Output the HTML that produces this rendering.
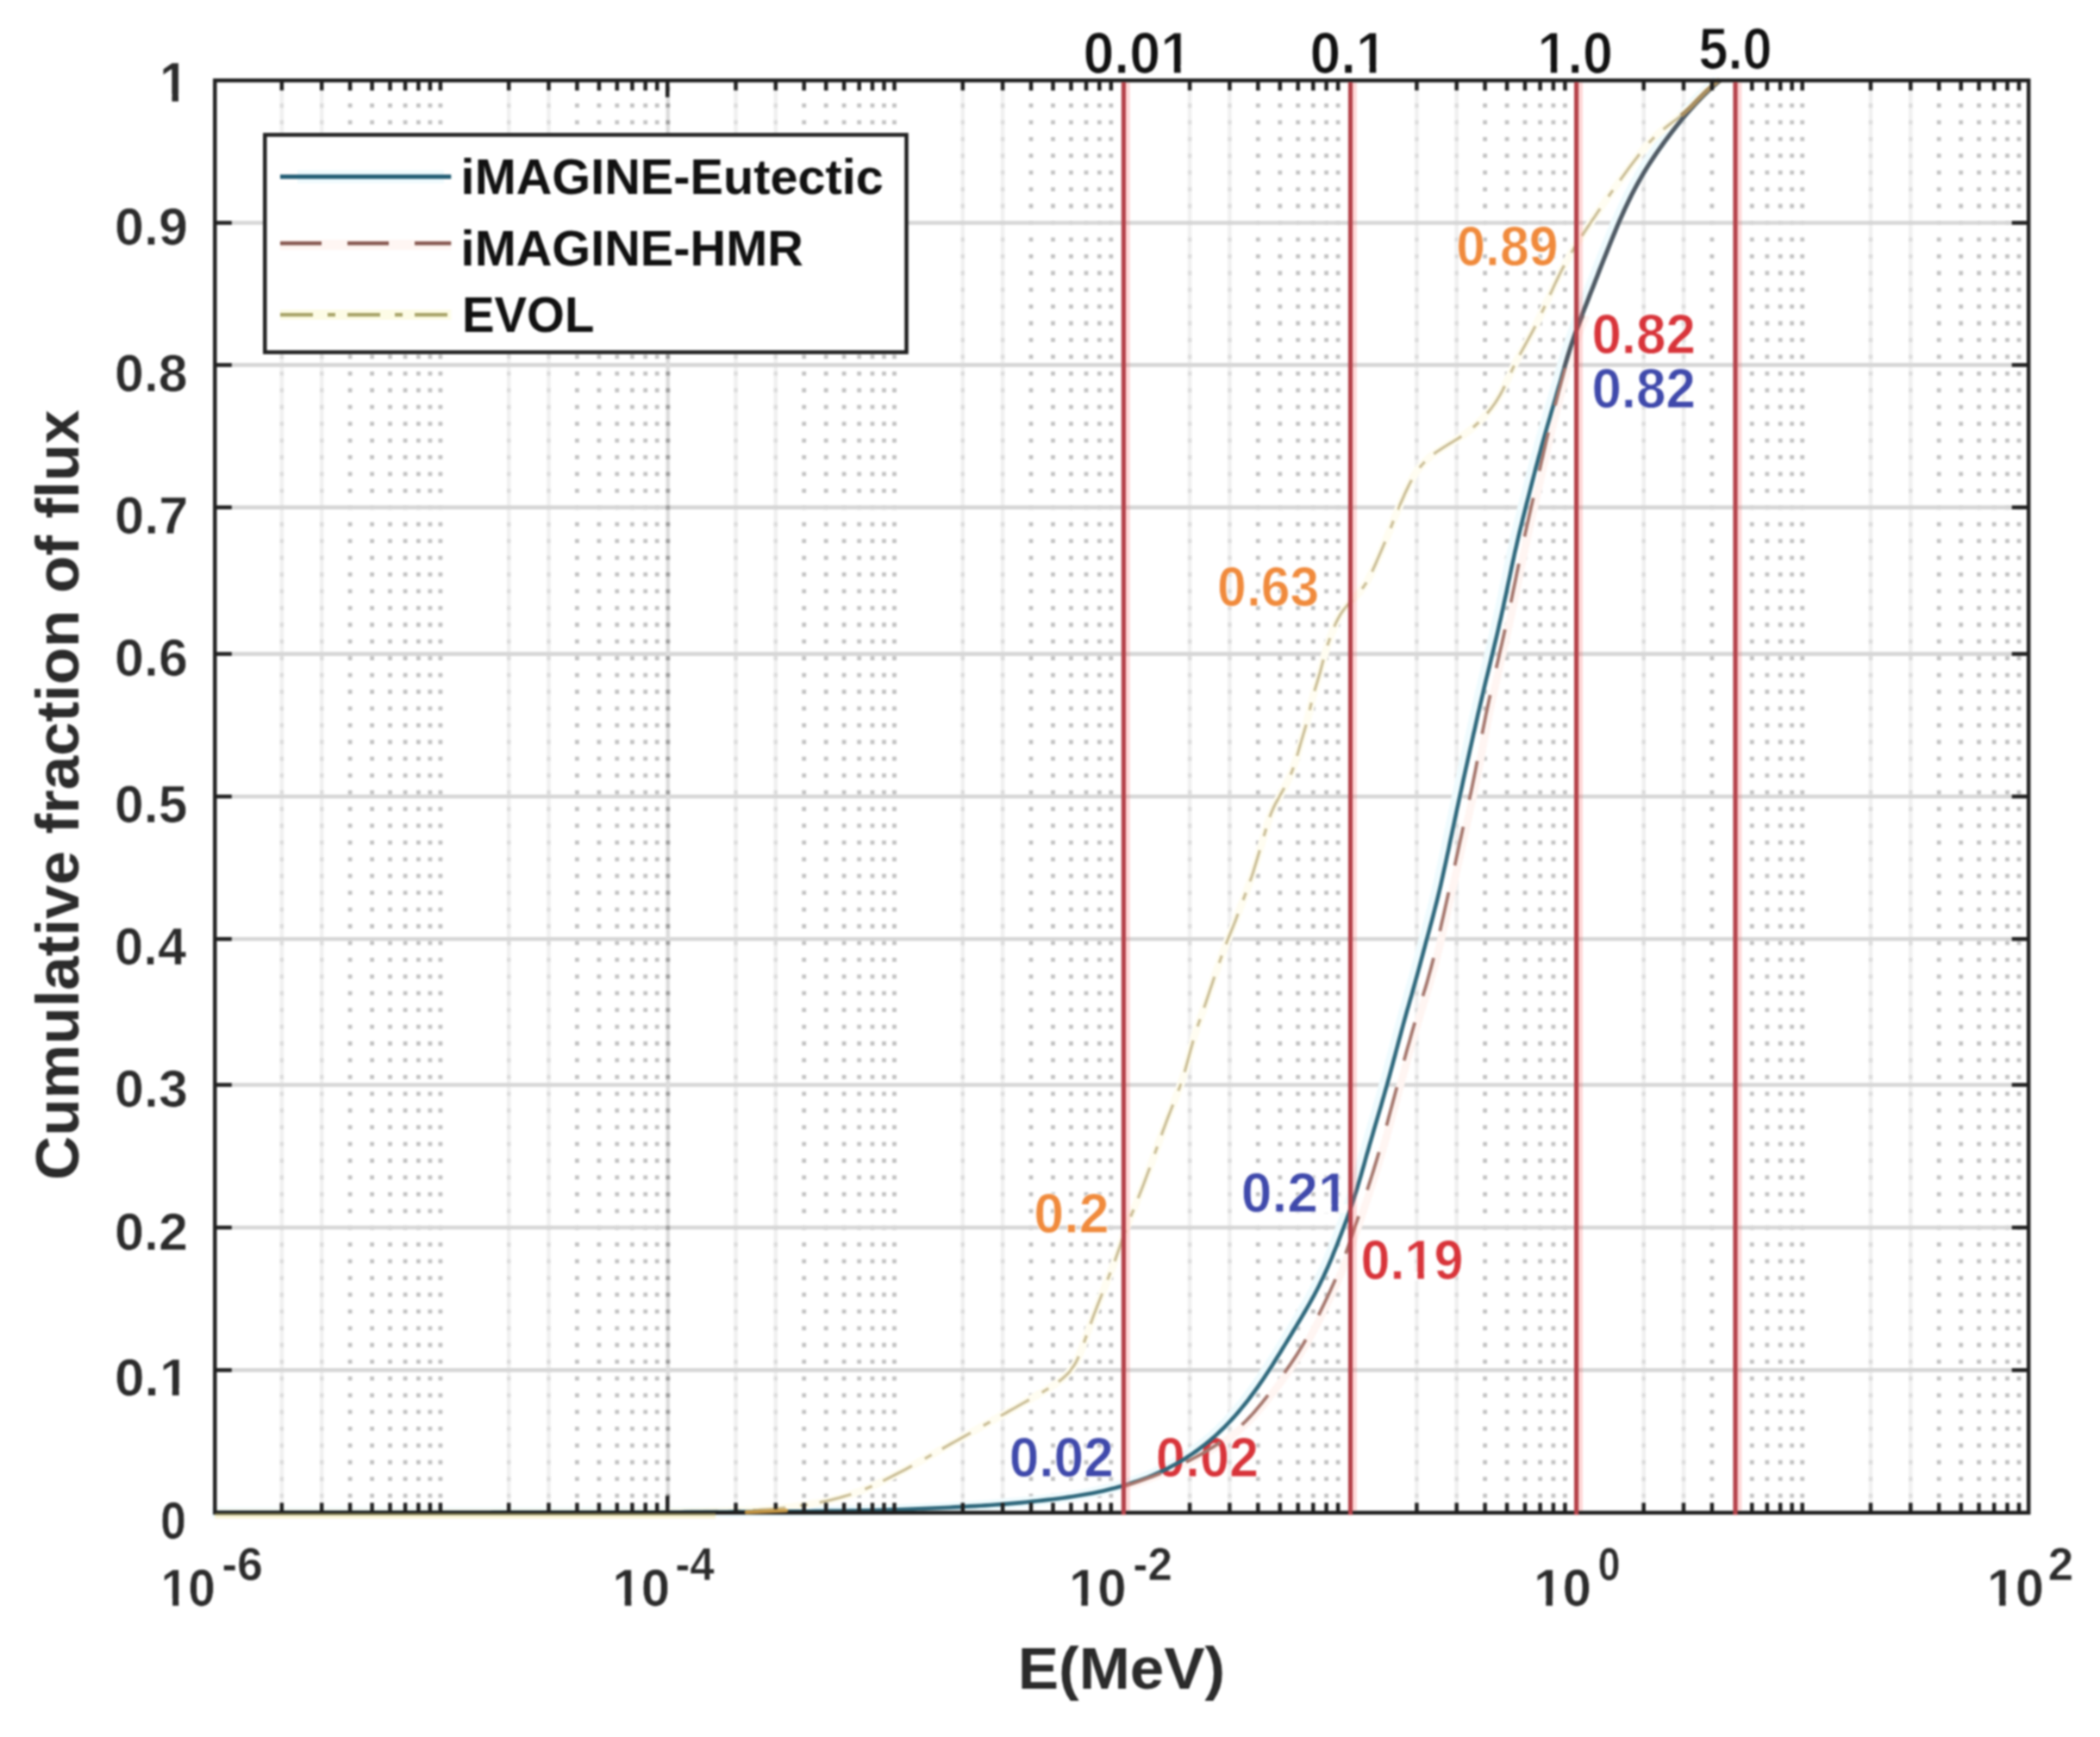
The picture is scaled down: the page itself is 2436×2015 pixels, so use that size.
<!DOCTYPE html>
<html lang="en"><head><meta charset="utf-8"><title>Cumulative fraction of flux</title>
<style>html,body{margin:0;padding:0;background:#fff}body{width:2436px;height:2015px;overflow:hidden}svg text{white-space:pre}</style></head>
<body>
<svg width="2436" height="2015" viewBox="0 0 2436 2015" style="display:block;filter:blur(1.3px)">
<rect width="2436" height="2015" fill="#fff"/>
<g id="minorgrid" fill="none">
<line x1="326.9" x2="326.9" y1="95.3" y2="1752.8" stroke="#f0f0f0" stroke-width="4.5"/>
<line x1="326.9" x2="326.9" y1="100.6" y2="1752.8" stroke="#dcdcdc" stroke-width="4.5" stroke-dasharray="4.86 14.57"/>
<line x1="373.2" x2="373.2" y1="95.3" y2="1752.8" stroke="#f0f0f0" stroke-width="4.5"/>
<line x1="373.2" x2="373.2" y1="100.6" y2="1752.8" stroke="#dcdcdc" stroke-width="4.5" stroke-dasharray="4.86 14.57"/>
<line x1="406.1" x2="406.1" y1="100.6" y2="1752.8" stroke="#c2c2c2" stroke-width="4.8" stroke-dasharray="4.8 14.63"/>
<line x1="431.6" x2="431.6" y1="100.6" y2="1752.8" stroke="#c2c2c2" stroke-width="4.8" stroke-dasharray="4.8 14.63"/>
<line x1="452.5" x2="452.5" y1="100.6" y2="1752.8" stroke="#c2c2c2" stroke-width="4.8" stroke-dasharray="4.8 14.63"/>
<line x1="470.1" x2="470.1" y1="100.6" y2="1752.8" stroke="#c2c2c2" stroke-width="4.8" stroke-dasharray="4.8 14.63"/>
<line x1="485.4" x2="485.4" y1="100.6" y2="1752.8" stroke="#c2c2c2" stroke-width="4.8" stroke-dasharray="4.8 14.63"/>
<line x1="498.9" x2="498.9" y1="100.6" y2="1752.8" stroke="#c2c2c2" stroke-width="4.8" stroke-dasharray="4.8 14.63"/>
<line x1="510.9" x2="510.9" y1="100.6" y2="1752.8" stroke="#c2c2c2" stroke-width="4.8" stroke-dasharray="4.8 14.63"/>
<line x1="590.2" x2="590.2" y1="95.3" y2="1752.8" stroke="#f0f0f0" stroke-width="4.5"/>
<line x1="590.2" x2="590.2" y1="100.6" y2="1752.8" stroke="#dcdcdc" stroke-width="4.5" stroke-dasharray="4.86 14.57"/>
<line x1="636.5" x2="636.5" y1="95.3" y2="1752.8" stroke="#f0f0f0" stroke-width="4.5"/>
<line x1="636.5" x2="636.5" y1="100.6" y2="1752.8" stroke="#dcdcdc" stroke-width="4.5" stroke-dasharray="4.86 14.57"/>
<line x1="669.4" x2="669.4" y1="100.6" y2="1752.8" stroke="#c2c2c2" stroke-width="4.8" stroke-dasharray="4.8 14.63"/>
<line x1="694.9" x2="694.9" y1="100.6" y2="1752.8" stroke="#c2c2c2" stroke-width="4.8" stroke-dasharray="4.8 14.63"/>
<line x1="715.8" x2="715.8" y1="100.6" y2="1752.8" stroke="#c2c2c2" stroke-width="4.8" stroke-dasharray="4.8 14.63"/>
<line x1="733.4" x2="733.4" y1="100.6" y2="1752.8" stroke="#c2c2c2" stroke-width="4.8" stroke-dasharray="4.8 14.63"/>
<line x1="748.7" x2="748.7" y1="100.6" y2="1752.8" stroke="#c2c2c2" stroke-width="4.8" stroke-dasharray="4.8 14.63"/>
<line x1="762.2" x2="762.2" y1="100.6" y2="1752.8" stroke="#c2c2c2" stroke-width="4.8" stroke-dasharray="4.8 14.63"/>
<line x1="853.5" x2="853.5" y1="95.3" y2="1752.8" stroke="#f0f0f0" stroke-width="4.5"/>
<line x1="853.5" x2="853.5" y1="100.6" y2="1752.8" stroke="#dcdcdc" stroke-width="4.5" stroke-dasharray="4.86 14.57"/>
<line x1="899.8" x2="899.8" y1="95.3" y2="1752.8" stroke="#f0f0f0" stroke-width="4.5"/>
<line x1="899.8" x2="899.8" y1="100.6" y2="1752.8" stroke="#dcdcdc" stroke-width="4.5" stroke-dasharray="4.86 14.57"/>
<line x1="932.7" x2="932.7" y1="100.6" y2="1752.8" stroke="#c2c2c2" stroke-width="4.8" stroke-dasharray="4.8 14.63"/>
<line x1="958.2" x2="958.2" y1="100.6" y2="1752.8" stroke="#c2c2c2" stroke-width="4.8" stroke-dasharray="4.8 14.63"/>
<line x1="979.1" x2="979.1" y1="100.6" y2="1752.8" stroke="#c2c2c2" stroke-width="4.8" stroke-dasharray="4.8 14.63"/>
<line x1="996.7" x2="996.7" y1="100.6" y2="1752.8" stroke="#c2c2c2" stroke-width="4.8" stroke-dasharray="4.8 14.63"/>
<line x1="1012.0" x2="1012.0" y1="100.6" y2="1752.8" stroke="#c2c2c2" stroke-width="4.8" stroke-dasharray="4.8 14.63"/>
<line x1="1025.5" x2="1025.5" y1="100.6" y2="1752.8" stroke="#c2c2c2" stroke-width="4.8" stroke-dasharray="4.8 14.63"/>
<line x1="1037.5" x2="1037.5" y1="100.6" y2="1752.8" stroke="#c2c2c2" stroke-width="4.8" stroke-dasharray="4.8 14.63"/>
<line x1="1116.8" x2="1116.8" y1="95.3" y2="1752.8" stroke="#f0f0f0" stroke-width="4.5"/>
<line x1="1116.8" x2="1116.8" y1="100.6" y2="1752.8" stroke="#dcdcdc" stroke-width="4.5" stroke-dasharray="4.86 14.57"/>
<line x1="1163.1" x2="1163.1" y1="95.3" y2="1752.8" stroke="#f0f0f0" stroke-width="4.5"/>
<line x1="1163.1" x2="1163.1" y1="100.6" y2="1752.8" stroke="#dcdcdc" stroke-width="4.5" stroke-dasharray="4.86 14.57"/>
<line x1="1196.0" x2="1196.0" y1="100.6" y2="1752.8" stroke="#c2c2c2" stroke-width="4.8" stroke-dasharray="4.8 14.63"/>
<line x1="1221.5" x2="1221.5" y1="100.6" y2="1752.8" stroke="#c2c2c2" stroke-width="4.8" stroke-dasharray="4.8 14.63"/>
<line x1="1242.4" x2="1242.4" y1="100.6" y2="1752.8" stroke="#c2c2c2" stroke-width="4.8" stroke-dasharray="4.8 14.63"/>
<line x1="1260.0" x2="1260.0" y1="100.6" y2="1752.8" stroke="#c2c2c2" stroke-width="4.8" stroke-dasharray="4.8 14.63"/>
<line x1="1275.3" x2="1275.3" y1="100.6" y2="1752.8" stroke="#c2c2c2" stroke-width="4.8" stroke-dasharray="4.8 14.63"/>
<line x1="1288.8" x2="1288.8" y1="100.6" y2="1752.8" stroke="#c2c2c2" stroke-width="4.8" stroke-dasharray="4.8 14.63"/>
<line x1="1380.1" x2="1380.1" y1="95.3" y2="1752.8" stroke="#f0f0f0" stroke-width="4.5"/>
<line x1="1380.1" x2="1380.1" y1="100.6" y2="1752.8" stroke="#dcdcdc" stroke-width="4.5" stroke-dasharray="4.86 14.57"/>
<line x1="1426.4" x2="1426.4" y1="95.3" y2="1752.8" stroke="#f0f0f0" stroke-width="4.5"/>
<line x1="1426.4" x2="1426.4" y1="100.6" y2="1752.8" stroke="#dcdcdc" stroke-width="4.5" stroke-dasharray="4.86 14.57"/>
<line x1="1459.3" x2="1459.3" y1="100.6" y2="1752.8" stroke="#c2c2c2" stroke-width="4.8" stroke-dasharray="4.8 14.63"/>
<line x1="1484.8" x2="1484.8" y1="100.6" y2="1752.8" stroke="#c2c2c2" stroke-width="4.8" stroke-dasharray="4.8 14.63"/>
<line x1="1505.7" x2="1505.7" y1="100.6" y2="1752.8" stroke="#c2c2c2" stroke-width="4.8" stroke-dasharray="4.8 14.63"/>
<line x1="1523.3" x2="1523.3" y1="100.6" y2="1752.8" stroke="#c2c2c2" stroke-width="4.8" stroke-dasharray="4.8 14.63"/>
<line x1="1538.6" x2="1538.6" y1="100.6" y2="1752.8" stroke="#c2c2c2" stroke-width="4.8" stroke-dasharray="4.8 14.63"/>
<line x1="1552.1" x2="1552.1" y1="100.6" y2="1752.8" stroke="#c2c2c2" stroke-width="4.8" stroke-dasharray="4.8 14.63"/>
<line x1="1643.4" x2="1643.4" y1="95.3" y2="1752.8" stroke="#f0f0f0" stroke-width="4.5"/>
<line x1="1643.4" x2="1643.4" y1="100.6" y2="1752.8" stroke="#dcdcdc" stroke-width="4.5" stroke-dasharray="4.86 14.57"/>
<line x1="1689.7" x2="1689.7" y1="95.3" y2="1752.8" stroke="#f0f0f0" stroke-width="4.5"/>
<line x1="1689.7" x2="1689.7" y1="100.6" y2="1752.8" stroke="#dcdcdc" stroke-width="4.5" stroke-dasharray="4.86 14.57"/>
<line x1="1722.6" x2="1722.6" y1="100.6" y2="1752.8" stroke="#c2c2c2" stroke-width="4.8" stroke-dasharray="4.8 14.63"/>
<line x1="1748.1" x2="1748.1" y1="100.6" y2="1752.8" stroke="#c2c2c2" stroke-width="4.8" stroke-dasharray="4.8 14.63"/>
<line x1="1769.0" x2="1769.0" y1="100.6" y2="1752.8" stroke="#c2c2c2" stroke-width="4.8" stroke-dasharray="4.8 14.63"/>
<line x1="1786.6" x2="1786.6" y1="100.6" y2="1752.8" stroke="#c2c2c2" stroke-width="4.8" stroke-dasharray="4.8 14.63"/>
<line x1="1801.9" x2="1801.9" y1="100.6" y2="1752.8" stroke="#c2c2c2" stroke-width="4.8" stroke-dasharray="4.8 14.63"/>
<line x1="1815.4" x2="1815.4" y1="100.6" y2="1752.8" stroke="#c2c2c2" stroke-width="4.8" stroke-dasharray="4.8 14.63"/>
<line x1="1906.7" x2="1906.7" y1="95.3" y2="1752.8" stroke="#f0f0f0" stroke-width="4.5"/>
<line x1="1906.7" x2="1906.7" y1="100.6" y2="1752.8" stroke="#dcdcdc" stroke-width="4.5" stroke-dasharray="4.86 14.57"/>
<line x1="1953.0" x2="1953.0" y1="95.3" y2="1752.8" stroke="#f0f0f0" stroke-width="4.5"/>
<line x1="1953.0" x2="1953.0" y1="100.6" y2="1752.8" stroke="#dcdcdc" stroke-width="4.5" stroke-dasharray="4.86 14.57"/>
<line x1="1985.9" x2="1985.9" y1="100.6" y2="1752.8" stroke="#c2c2c2" stroke-width="4.8" stroke-dasharray="4.8 14.63"/>
<line x1="2032.3" x2="2032.3" y1="100.6" y2="1752.8" stroke="#c2c2c2" stroke-width="4.8" stroke-dasharray="4.8 14.63"/>
<line x1="2049.9" x2="2049.9" y1="100.6" y2="1752.8" stroke="#c2c2c2" stroke-width="4.8" stroke-dasharray="4.8 14.63"/>
<line x1="2065.2" x2="2065.2" y1="100.6" y2="1752.8" stroke="#c2c2c2" stroke-width="4.8" stroke-dasharray="4.8 14.63"/>
<line x1="2078.7" x2="2078.7" y1="100.6" y2="1752.8" stroke="#c2c2c2" stroke-width="4.8" stroke-dasharray="4.8 14.63"/>
<line x1="2090.7" x2="2090.7" y1="100.6" y2="1752.8" stroke="#c2c2c2" stroke-width="4.8" stroke-dasharray="4.8 14.63"/>
<line x1="2170.0" x2="2170.0" y1="95.3" y2="1752.8" stroke="#f0f0f0" stroke-width="4.5"/>
<line x1="2170.0" x2="2170.0" y1="100.6" y2="1752.8" stroke="#dcdcdc" stroke-width="4.5" stroke-dasharray="4.86 14.57"/>
<line x1="2216.3" x2="2216.3" y1="95.3" y2="1752.8" stroke="#f0f0f0" stroke-width="4.5"/>
<line x1="2216.3" x2="2216.3" y1="100.6" y2="1752.8" stroke="#dcdcdc" stroke-width="4.5" stroke-dasharray="4.86 14.57"/>
<line x1="2249.2" x2="2249.2" y1="100.6" y2="1752.8" stroke="#c2c2c2" stroke-width="4.8" stroke-dasharray="4.8 14.63"/>
<line x1="2274.7" x2="2274.7" y1="100.6" y2="1752.8" stroke="#c2c2c2" stroke-width="4.8" stroke-dasharray="4.8 14.63"/>
<line x1="2295.6" x2="2295.6" y1="100.6" y2="1752.8" stroke="#c2c2c2" stroke-width="4.8" stroke-dasharray="4.8 14.63"/>
<line x1="2313.2" x2="2313.2" y1="100.6" y2="1752.8" stroke="#c2c2c2" stroke-width="4.8" stroke-dasharray="4.8 14.63"/>
<line x1="2328.5" x2="2328.5" y1="100.6" y2="1752.8" stroke="#c2c2c2" stroke-width="4.8" stroke-dasharray="4.8 14.63"/>
<line x1="2342.0" x2="2342.0" y1="100.6" y2="1752.8" stroke="#c2c2c2" stroke-width="4.8" stroke-dasharray="4.8 14.63"/>
</g>
<g id="majorgrid" stroke="#d6d6d6" stroke-width="4.6">
<line x1="249.3" x2="2353.2" y1="258.5" y2="258.5"/>
<line x1="249.3" x2="2353.2" y1="423.4" y2="423.4"/>
<line x1="249.3" x2="2353.2" y1="588.6" y2="588.6"/>
<line x1="249.3" x2="2353.2" y1="758.6" y2="758.6"/>
<line x1="249.3" x2="2353.2" y1="924.0" y2="924.0"/>
<line x1="249.3" x2="2353.2" y1="1089.3" y2="1089.3"/>
<line x1="249.3" x2="2353.2" y1="1258.5" y2="1258.5"/>
<line x1="249.3" x2="2353.2" y1="1424.0" y2="1424.0"/>
<line x1="249.3" x2="2353.2" y1="1589.4" y2="1589.4"/>
<line x1="774.8" x2="774.8" y1="93.3" y2="1754.8" stroke="#dcdcdc"/>
<line x1="774.8" x2="774.8" y1="100.6" y2="1752.8" stroke="#9e9e9e" stroke-width="4.8" stroke-dasharray="4.8 14.63"/>
</g>
<g id="halos" fill="none" stroke-linejoin="round">
<path d="M249.3 1754.6 L255.3 1754.6 L261.3 1754.6 L267.3 1754.6 L273.3 1754.6 L279.3 1754.6 L285.3 1754.6 L291.3 1754.6 L297.3 1754.6 L303.3 1754.6 L309.3 1754.6 L315.3 1754.6 L321.3 1754.6 L327.3 1754.6 L333.3 1754.6 L339.3 1754.6 L345.3 1754.6 L351.3 1754.6 L357.3 1754.6 L363.3 1754.6 L369.3 1754.6 L375.3 1754.6 L381.3 1754.6 L387.3 1754.6 L393.3 1754.6 L399.3 1754.6 L405.3 1754.6 L411.3 1754.6 L417.3 1754.6 L423.3 1754.6 L429.3 1754.6 L435.3 1754.6 L441.3 1754.5 L447.3 1754.5 L453.3 1754.5 L459.3 1754.5 L465.3 1754.5 L471.3 1754.5 L477.3 1754.5 L483.3 1754.5 L489.3 1754.5 L495.3 1754.5 L501.3 1754.5 L507.3 1754.5 L513.3 1754.5 L519.3 1754.5 L525.3 1754.5 L531.3 1754.5 L537.3 1754.5 L543.3 1754.5 L549.3 1754.5 L555.3 1754.5 L561.3 1754.5 L567.3 1754.5 L573.3 1754.4 L579.3 1754.4 L585.3 1754.4 L591.3 1754.4 L597.3 1754.4 L603.3 1754.4 L609.3 1754.4 L615.3 1754.4 L621.3 1754.4 L627.3 1754.4 L633.3 1754.4 L639.3 1754.4 L645.3 1754.4 L651.3 1754.4 L657.3 1754.4 L663.3 1754.4 L669.3 1754.3 L675.3 1754.3 L681.3 1754.3 L687.3 1754.3 L693.3 1754.3 L699.3 1754.3 L705.3 1754.3 L711.3 1754.3 L717.3 1754.3 L723.3 1754.3 L729.3 1754.3 L735.3 1754.3 L741.3 1754.2 L747.3 1754.2 L753.3 1754.2 L759.3 1754.2 L765.3 1754.2 L771.3 1754.2 L777.3 1754.2 L783.3 1754.2 L789.3 1754.2 L795.3 1754.1 L801.3 1754.1 L807.3 1754.1 L813.3 1754.1 L819.3 1754.1 L825.3 1754.0 L831.3 1754.0 L837.3 1754.0 L843.3 1754.0 L849.3 1753.9 L855.3 1753.9 L861.3 1753.8 L867.3 1753.8 L873.3 1753.8 L879.3 1753.7 L885.3 1753.7 L891.3 1753.6 L897.3 1753.6 L903.3 1753.5 L909.3 1753.5 L915.3 1753.4 L921.3 1753.4 L927.3 1753.3 L933.3 1753.3 L939.3 1753.2 L945.3 1753.1 L951.3 1753.1 L957.3 1753.0 L963.3 1752.9 L969.3 1752.9 L975.3 1752.8 L981.3 1752.7 L987.3 1752.6 L993.3 1752.5 L999.3 1752.4 L1005.3 1752.2 L1011.3 1752.1 L1017.3 1752.0 L1023.3 1751.8 L1029.3 1751.6 L1035.3 1751.4 L1041.3 1751.2 L1047.3 1751.0 L1053.3 1750.8 L1059.3 1750.6 L1065.3 1750.3 L1071.3 1750.1 L1077.2 1749.8 L1083.2 1749.5 L1089.2 1749.3 L1095.2 1749.0 L1101.2 1748.7 L1107.2 1748.4 L1113.2 1748.1 L1119.2 1747.8 L1125.2 1747.4 L1131.2 1747.1 L1137.2 1746.7 L1143.2 1746.4 L1149.1 1746.0 L1155.1 1745.5 L1161.1 1745.1 L1167.1 1744.6 L1173.1 1744.1 L1179.0 1743.6 L1185.0 1743.1 L1191.0 1742.5 L1197.0 1741.9 L1202.9 1741.3 L1208.9 1740.6 L1214.9 1739.9 L1220.8 1739.2 L1226.8 1738.5 L1232.7 1737.7 L1238.6 1736.9 L1244.6 1736.0 L1250.5 1735.1 L1256.4 1734.1 L1262.3 1733.0 L1268.2 1731.9 L1274.0 1730.7 L1279.9 1729.4 L1285.7 1728.0 L1291.5 1726.6 L1297.3 1725.0 L1303.1 1723.4 L1308.8 1721.7 L1314.5 1719.8 L1320.2 1717.9 L1325.8 1715.9 L1331.4 1713.8 L1336.9 1711.5 L1342.4 1709.1 L1347.8 1706.7 L1353.2 1704.1 L1358.5 1701.3 L1363.7 1698.5 L1368.9 1695.5 L1374.0 1692.5 L1379.0 1689.2 L1384.0 1685.9 L1388.8 1682.5 L1393.6 1678.9 L1398.3 1675.2 L1402.9 1671.4 L1407.5 1667.6 L1411.9 1663.6 L1416.2 1659.5 L1420.5 1655.3 L1424.7 1651.0 L1428.8 1646.6 L1432.8 1642.2 L1436.7 1637.7 L1440.5 1633.1 L1444.3 1628.5 L1448.0 1623.8 L1451.6 1619.0 L1455.2 1614.2 L1458.7 1609.3 L1462.1 1604.4 L1465.5 1599.5 L1468.8 1594.5 L1472.1 1589.5 L1475.4 1584.4 L1478.6 1579.3 L1481.7 1574.3 L1484.9 1569.2 L1488.0 1564.0 L1491.2 1558.9 L1494.3 1553.8 L1497.4 1548.7 L1500.5 1543.5 L1503.6 1538.4 L1506.7 1533.3 L1509.8 1528.1 L1512.8 1523.0 L1515.8 1517.8 L1518.8 1512.6 L1521.7 1507.3 L1524.6 1502.1 L1527.4 1496.8 L1530.1 1491.5 L1532.7 1486.1 L1535.3 1480.7 L1537.8 1475.2 L1540.3 1469.8 L1542.6 1464.3 L1545.0 1458.8 L1547.2 1453.2 L1549.5 1447.6 L1551.7 1442.1 L1553.8 1436.5 L1556.0 1430.9 L1558.1 1425.3 L1560.2 1419.7 L1562.3 1414.1 L1564.3 1408.5 L1566.3 1402.8 L1568.2 1397.2 L1570.1 1391.5 L1572.0 1385.8 L1573.8 1380.1 L1575.5 1374.4 L1577.2 1368.6 L1578.9 1362.8 L1580.5 1357.1 L1582.2 1351.3 L1583.8 1345.5 L1585.4 1339.7 L1587.1 1334.0 L1588.7 1328.2 L1590.4 1322.4 L1592.1 1316.6 L1593.7 1310.9 L1595.4 1305.1 L1597.1 1299.4 L1598.8 1293.6 L1600.5 1287.8 L1602.2 1282.1 L1603.8 1276.3 L1605.5 1270.6 L1607.1 1264.8 L1608.8 1259.0 L1610.4 1253.2 L1612.0 1247.4 L1613.5 1241.7 L1615.1 1235.9 L1616.6 1230.1 L1618.2 1224.3 L1619.7 1218.5 L1621.3 1212.7 L1622.8 1206.9 L1624.4 1201.1 L1625.9 1195.3 L1627.5 1189.5 L1629.1 1183.7 L1630.7 1177.9 L1632.3 1172.2 L1634.0 1166.4 L1635.6 1160.6 L1637.3 1154.8 L1638.9 1149.1 L1640.5 1143.3 L1642.1 1137.5 L1643.7 1131.8 L1645.3 1126.0 L1646.9 1120.2 L1648.4 1114.4 L1650.0 1108.6 L1651.5 1102.8 L1653.1 1097.0 L1654.6 1091.2 L1656.2 1085.5 L1657.8 1079.7 L1659.3 1073.9 L1660.9 1068.1 L1662.4 1062.3 L1663.9 1056.5 L1665.4 1050.7 L1666.9 1044.9 L1668.3 1039.1 L1669.7 1033.3 L1671.1 1027.4 L1672.4 1021.6 L1673.7 1015.7 L1675.0 1009.8 L1676.3 1004.0 L1677.6 998.1 L1678.8 992.2 L1680.1 986.4 L1681.3 980.5 L1682.5 974.6 L1683.8 968.8 L1685.0 962.9 L1686.3 957.0 L1687.5 951.1 L1688.8 945.3 L1690.0 939.4 L1691.3 933.5 L1692.5 927.7 L1693.8 921.8 L1695.1 915.9 L1696.4 910.1 L1697.6 904.2 L1698.9 898.4 L1700.2 892.5 L1701.5 886.7 L1702.8 880.8 L1704.1 874.9 L1705.4 869.1 L1706.7 863.2 L1708.0 857.4 L1709.3 851.5 L1710.7 845.7 L1712.0 839.8 L1713.3 833.9 L1714.6 828.1 L1716.0 822.3 L1717.3 816.4 L1718.7 810.6 L1720.1 804.7 L1721.4 798.9 L1722.8 793.1 L1724.2 787.2 L1725.7 781.4 L1727.1 775.6 L1728.5 769.7 L1729.9 763.9 L1731.3 758.1 L1732.7 752.2 L1734.1 746.4 L1735.5 740.6 L1736.9 734.7 L1738.2 728.9 L1739.5 723.0 L1740.9 717.2 L1742.2 711.3 L1743.5 705.5 L1744.7 699.6 L1746.0 693.7 L1747.3 687.9 L1748.5 682.0 L1749.7 676.1 L1751.0 670.2 L1752.2 664.4 L1753.4 658.5 L1754.7 652.6 L1756.0 646.8 L1757.2 640.9 L1758.6 635.1 L1759.9 629.2 L1761.2 623.4 L1762.6 617.5 L1764.0 611.7 L1765.5 605.9 L1766.9 600.1 L1768.4 594.2 L1769.8 588.4 L1771.3 582.6 L1772.8 576.8 L1774.3 571.0 L1775.8 565.2 L1777.3 559.4 L1778.8 553.6 L1780.3 547.7 L1781.8 541.9 L1783.4 536.1 L1784.9 530.3 L1786.5 524.6 L1788.0 518.8 L1789.6 513.0 L1791.3 507.2 L1792.9 501.4 L1794.5 495.7 L1796.2 489.9 L1797.9 484.1 L1799.5 478.4 L1801.2 472.6 L1802.9 466.8 L1804.6 461.1 L1806.2 455.3 L1807.9 449.5 L1809.6 443.8 L1811.3 438.0 L1812.9 432.2 L1814.6 426.5 L1816.3 420.7 L1818.0 415.0 L1819.8 409.3 L1821.6 403.5 L1823.4 397.9 L1825.4 392.2 L1827.3 386.6 L1829.3 380.9 L1831.4 375.3 L1833.5 369.8 L1835.6 364.2 L1837.8 358.6 L1840.0 353.1 L1842.2 347.5 L1844.3 341.9 L1846.5 336.4 L1848.7 330.8 L1850.9 325.2 L1853.1 319.6 L1855.2 314.0 L1857.4 308.4 L1859.6 302.9 L1861.8 297.3 L1864.1 291.7 L1866.3 286.1 L1868.5 280.6 L1870.8 275.0 L1873.1 269.5 L1875.4 263.9 L1877.7 258.4 L1880.1 252.9 L1882.6 247.4 L1885.0 242.0 L1887.6 236.6 L1890.2 231.2 L1892.8 225.8 L1895.6 220.5 L1898.4 215.2 L1901.3 210.0 L1904.3 204.8 L1907.3 199.6 L1910.4 194.5 L1913.6 189.5 L1916.9 184.5 L1920.2 179.5 L1923.6 174.6 L1927.1 169.7 L1930.6 164.8 L1934.2 160.0 L1937.8 155.2 L1941.4 150.5 L1945.1 145.8 L1948.9 141.1 L1952.7 136.5 L1956.5 131.9 L1960.4 127.5 L1964.4 123.0 L1968.4 118.7 L1972.5 114.4 L1976.6 110.3 L1980.9 106.2 L1985.1 102.2 L1989.4 98.3 L1993.8 94.5 L1995.2 93.3" stroke="#effbfe" stroke-width="12" transform="translate(-3.5,0)"/>
<path d="M249.3 1754.6 L255.3 1754.6 L261.3 1754.6 L267.3 1754.6 L273.3 1754.6 L279.3 1754.6 L285.3 1754.6 L291.3 1754.6 L297.3 1754.6 L303.3 1754.6 L309.3 1754.6 L315.3 1754.6 L321.3 1754.6 L327.3 1754.6 L333.3 1754.6 L339.3 1754.6 L345.3 1754.6 L351.3 1754.6 L357.3 1754.6 L363.3 1754.6 L369.3 1754.6 L375.3 1754.6 L381.3 1754.6 L387.3 1754.6 L393.3 1754.6 L399.3 1754.6 L405.3 1754.6 L411.3 1754.6 L417.3 1754.6 L423.3 1754.6 L429.3 1754.6 L435.3 1754.6 L441.3 1754.6 L447.3 1754.6 L453.3 1754.6 L459.3 1754.6 L465.3 1754.6 L471.3 1754.6 L477.3 1754.6 L483.3 1754.6 L489.3 1754.6 L495.3 1754.6 L501.3 1754.6 L507.3 1754.6 L513.3 1754.6 L519.3 1754.6 L525.3 1754.6 L531.3 1754.6 L537.3 1754.6 L543.3 1754.6 L549.3 1754.6 L555.3 1754.6 L561.3 1754.6 L567.3 1754.6 L573.3 1754.6 L579.3 1754.6 L585.3 1754.6 L591.3 1754.6 L597.3 1754.5 L603.3 1754.5 L609.3 1754.5 L615.3 1754.5 L621.3 1754.5 L627.3 1754.5 L633.3 1754.5 L639.3 1754.5 L645.3 1754.5 L651.3 1754.5 L657.3 1754.5 L663.3 1754.5 L669.3 1754.5 L675.3 1754.5 L681.3 1754.5 L687.3 1754.5 L693.3 1754.5 L699.3 1754.5 L705.3 1754.5 L711.3 1754.4 L717.3 1754.4 L723.3 1754.4 L729.3 1754.3 L735.3 1754.3 L741.3 1754.2 L747.3 1754.1 L753.3 1754.1 L759.3 1754.0 L765.3 1753.9 L771.3 1753.9 L777.3 1753.8 L783.3 1753.7 L789.3 1753.7 L795.3 1753.6 L801.3 1753.5 L807.3 1753.4 L813.3 1753.3 L819.3 1753.2 L825.3 1753.1 L831.3 1753.0 L837.3 1752.9 L843.3 1752.7 L849.3 1752.6 L855.3 1752.4 L861.3 1752.3 L867.3 1752.1 L873.3 1751.8 L879.3 1751.6 L885.3 1751.2 L891.2 1750.8 L897.2 1750.3 L903.2 1749.8 L909.2 1749.1 L915.1 1748.4 L921.1 1747.7 L927.0 1746.8 L933.0 1745.9 L938.9 1745.0 L944.8 1743.9 L950.7 1742.8 L956.6 1741.6 L962.5 1740.3 L968.3 1738.9 L974.1 1737.4 L979.9 1735.7 L985.6 1734.0 L991.2 1732.1 L996.8 1730.1 L1002.4 1727.9 L1007.9 1725.6 L1013.4 1723.1 L1018.8 1720.6 L1024.2 1717.9 L1029.6 1715.2 L1035.0 1712.5 L1040.3 1709.7 L1045.7 1707.0 L1051.0 1704.2 L1056.3 1701.3 L1061.5 1698.4 L1066.8 1695.5 L1072.0 1692.6 L1077.2 1689.6 L1082.4 1686.7 L1087.7 1683.7 L1092.9 1680.7 L1098.1 1677.8 L1103.3 1674.8 L1108.6 1671.9 L1113.8 1669.0 L1119.0 1666.0 L1124.3 1663.1 L1129.5 1660.1 L1134.7 1657.2 L1139.9 1654.2 L1145.2 1651.3 L1150.4 1648.3 L1155.6 1645.4 L1160.8 1642.4 L1166.1 1639.5 L1171.3 1636.5 L1176.5 1633.6 L1181.7 1630.6 L1187.0 1627.6 L1192.2 1624.7 L1197.4 1621.7 L1202.6 1618.8 L1207.8 1615.8 L1213.0 1612.7 L1218.1 1609.5 L1223.1 1606.2 L1228.0 1602.8 L1232.7 1599.0 L1237.0 1595.1 L1241.0 1590.8 L1244.5 1586.1 L1247.6 1581.2 L1250.2 1575.9 L1252.6 1570.5 L1254.8 1564.9 L1256.8 1559.3 L1258.8 1553.6 L1260.8 1547.9 L1262.8 1542.2 L1264.8 1536.6 L1266.8 1531.0 L1268.9 1525.3 L1271.1 1519.7 L1273.2 1514.1 L1275.4 1508.5 L1277.6 1502.9 L1279.7 1497.3 L1281.9 1491.8 L1284.1 1486.2 L1286.3 1480.6 L1288.5 1475.0 L1290.7 1469.4 L1292.8 1463.8 L1294.8 1458.2 L1296.8 1452.5 L1298.8 1446.8 L1300.7 1441.1 L1302.6 1435.5 L1304.6 1429.8 L1306.7 1424.2 L1308.8 1418.6 L1311.0 1413.0 L1313.2 1407.4 L1315.5 1401.9 L1317.7 1396.3 L1319.9 1390.7 L1322.1 1385.1 L1324.3 1379.6 L1326.5 1374.0 L1328.6 1368.4 L1330.7 1362.7 L1332.8 1357.1 L1334.9 1351.5 L1336.9 1345.8 L1338.9 1340.2 L1340.9 1334.5 L1342.9 1328.9 L1344.9 1323.2 L1347.0 1317.6 L1349.0 1311.9 L1351.1 1306.3 L1353.2 1300.7 L1355.3 1295.1 L1357.5 1289.5 L1359.7 1283.9 L1361.9 1278.3 L1364.0 1272.7 L1366.2 1267.1 L1368.3 1261.5 L1370.3 1255.9 L1372.1 1250.2 L1373.9 1244.4 L1375.5 1238.7 L1377.1 1232.9 L1378.7 1227.1 L1380.2 1221.3 L1381.8 1215.5 L1383.4 1209.7 L1385.0 1203.9 L1386.8 1198.2 L1388.6 1192.5 L1390.5 1186.8 L1392.5 1181.2 L1394.5 1175.5 L1396.5 1169.8 L1398.4 1164.2 L1400.3 1158.5 L1402.2 1152.8 L1404.1 1147.1 L1406.0 1141.4 L1407.9 1135.7 L1409.8 1130.0 L1411.8 1124.3 L1413.7 1118.7 L1415.7 1113.0 L1417.7 1107.3 L1419.8 1101.7 L1421.9 1096.1 L1424.0 1090.5 L1426.3 1084.9 L1428.5 1079.4 L1430.8 1073.8 L1433.0 1068.3 L1435.1 1062.7 L1437.2 1057.0 L1439.3 1051.4 L1441.4 1045.8 L1443.5 1040.2 L1445.6 1034.5 L1447.7 1028.9 L1449.7 1023.3 L1451.7 1017.7 L1453.6 1012.0 L1455.3 1006.2 L1457.1 1000.5 L1458.8 994.7 L1460.5 989.0 L1462.2 983.2 L1463.9 977.5 L1465.6 971.7 L1467.3 966.0 L1469.0 960.2 L1470.7 954.5 L1472.5 948.8 L1474.6 943.2 L1476.9 937.8 L1479.5 932.4 L1482.4 927.2 L1485.3 921.9 L1488.2 916.7 L1491.1 911.5 L1493.8 906.1 L1496.3 900.7 L1498.6 895.2 L1500.6 889.6 L1502.5 883.9 L1504.2 878.2 L1505.9 872.4 L1507.5 866.6 L1509.2 860.9 L1510.9 855.1 L1512.6 849.4 L1514.3 843.6 L1515.9 837.8 L1517.3 832.0 L1518.7 826.2 L1520.0 820.4 L1521.4 814.5 L1522.8 808.7 L1524.4 803.0 L1526.1 797.2 L1527.9 791.5 L1529.6 785.8 L1531.3 780.0 L1532.8 774.2 L1534.3 768.4 L1535.8 762.6 L1537.4 756.8 L1539.0 751.1 L1540.9 745.4 L1542.9 739.7 L1545.0 734.1 L1547.2 728.5 L1549.5 723.0 L1552.1 717.7 L1555.0 712.6 L1558.3 707.8 L1562.0 703.3 L1565.9 698.9 L1570.0 694.6 L1574.1 690.3 L1577.9 685.8 L1581.5 681.0 L1584.8 676.1 L1587.7 670.9 L1590.4 665.6 L1592.9 660.2 L1595.4 654.7 L1597.8 649.2 L1600.2 643.7 L1602.6 638.2 L1604.9 632.7 L1607.3 627.1 L1609.5 621.6 L1611.8 616.0 L1614.0 610.4 L1616.1 604.8 L1618.3 599.3 L1620.6 593.7 L1622.9 588.2 L1625.2 582.7 L1627.7 577.2 L1630.1 571.7 L1632.7 566.3 L1635.3 560.9 L1638.1 555.6 L1641.1 550.5 L1644.4 545.6 L1648.0 540.9 L1652.0 536.5 L1656.3 532.4 L1660.8 528.5 L1665.5 524.9 L1670.5 521.6 L1675.5 518.4 L1680.7 515.2 L1685.8 512.2 L1690.9 509.0 L1695.9 505.8 L1700.8 502.3 L1705.5 498.7 L1710.0 494.8 L1714.4 490.7 L1718.7 486.5 L1722.8 482.1 L1726.7 477.6 L1730.4 472.9 L1733.9 468.1 L1737.1 463.1 L1740.2 458.0 L1743.0 452.7 L1745.6 447.3 L1748.1 441.9 L1750.6 436.4 L1753.2 431.0 L1755.7 425.5 L1758.4 420.1 L1761.2 414.8 L1764.0 409.5 L1766.9 404.3 L1769.8 399.0 L1772.7 393.8 L1775.6 388.5 L1778.4 383.2 L1781.1 377.9 L1783.8 372.5 L1786.4 367.1 L1788.9 361.6 L1791.4 356.2 L1794.0 350.7 L1796.5 345.3 L1799.0 339.8 L1801.5 334.4 L1804.0 328.9 L1806.6 323.5 L1809.2 318.1 L1811.9 312.8 L1814.7 307.5 L1817.5 302.2 L1820.5 297.0 L1823.6 291.8 L1826.7 286.7 L1829.9 281.6 L1833.1 276.6 L1836.4 271.5 L1839.7 266.5 L1843.0 261.5 L1846.3 256.5 L1849.7 251.6 L1853.0 246.6 L1856.4 241.6 L1859.7 236.6 L1863.2 231.7 L1866.6 226.8 L1870.1 221.9 L1873.6 217.0 L1877.1 212.2 L1880.6 207.3 L1884.1 202.5 L1887.7 197.6 L1891.2 192.8 L1894.8 188.0 L1898.5 183.2 L1902.1 178.4 L1905.9 173.7 L1909.7 169.2 L1913.7 164.7 L1917.8 160.4 L1922.1 156.3 L1926.6 152.3 L1931.3 148.6 L1936.0 144.9 L1940.8 141.3 L1945.6 137.7 L1950.3 134.0 L1954.8 130.1 L1959.2 126.1 L1963.5 121.9 L1967.6 117.6 L1971.7 113.3 L1975.9 109.1 L1980.2 105.0 L1984.5 101.1 L1989.0 97.3 L1993.4 93.7 L1994.9 92.6" stroke="#fffdf1" stroke-width="9"/>
<path d="M1303.3 1724.3 L1309.0 1722.4 L1314.7 1720.6 L1320.4 1718.7 L1326.1 1716.7 L1331.7 1714.7 L1337.4 1712.6 L1343.0 1710.5 L1348.5 1708.3 L1354.1 1706.0 L1359.6 1703.6 L1365.0 1701.2 L1370.5 1698.7 L1375.9 1696.0 L1381.2 1693.4 L1386.5 1690.6 L1391.8 1687.7 L1397.0 1684.7 L1402.1 1681.7 L1407.2 1678.5 L1412.2 1675.3 L1417.1 1671.9 L1421.9 1668.4 L1426.6 1664.8 L1431.3 1661.1 L1435.8 1657.2 L1440.2 1653.2 L1444.5 1649.1 L1448.6 1644.9 L1452.7 1640.5 L1456.6 1636.1 L1460.4 1631.5 L1464.2 1626.9 L1467.9 1622.2 L1471.6 1617.5 L1475.2 1612.7 L1478.8 1607.9 L1482.3 1603.1 L1485.8 1598.2 L1489.3 1593.4 L1492.8 1588.5 L1496.2 1583.6 L1499.6 1578.6 L1502.9 1573.6 L1506.1 1568.6 L1509.2 1563.5 L1512.2 1558.4 L1515.2 1553.2 L1518.0 1548.0 L1520.8 1542.7 L1523.6 1537.4 L1526.3 1532.1 L1529.0 1526.7 L1531.6 1521.3 L1534.3 1515.9 L1536.9 1510.5 L1539.5 1505.1 L1542.0 1499.7 L1544.5 1494.3 L1547.0 1488.8 L1549.4 1483.3 L1551.7 1477.8 L1554.0 1472.3 L1556.2 1466.7 L1558.4 1461.1 L1560.5 1455.5 L1562.5 1449.9 L1564.6 1444.2 L1566.5 1438.6 L1568.5 1432.9 L1570.4 1427.2 L1572.3 1421.5 L1574.3 1415.9 L1576.2 1410.2 L1578.1 1404.5 L1579.9 1398.8 L1581.8 1393.1 L1583.7 1387.4 L1585.6 1381.7 L1587.4 1376.0 L1589.2 1370.3 L1591.1 1364.5 L1592.9 1358.8 L1594.6 1353.1 L1596.4 1347.3 L1598.1 1341.6 L1599.8 1335.9 L1601.5 1330.1 L1603.1 1324.3 L1604.8 1318.6 L1606.4 1312.8 L1608.0 1307.0 L1609.6 1301.2 L1611.1 1295.4 L1612.7 1289.6 L1614.3 1283.8 L1615.8 1278.0 L1617.4 1272.2 L1618.9 1266.4 L1620.5 1260.6 L1622.0 1254.9 L1623.6 1249.1 L1625.2 1243.3 L1626.8 1237.5 L1628.3 1231.7 L1629.9 1225.9 L1631.5 1220.1 L1633.1 1214.3 L1634.8 1208.6 L1636.4 1202.8 L1638.0 1197.0 L1639.7 1191.3 L1641.4 1185.5 L1643.1 1179.7 L1644.9 1174.0 L1646.6 1168.3 L1648.3 1162.5 L1650.1 1156.8 L1651.8 1151.0 L1653.6 1145.3 L1655.3 1139.6 L1656.9 1133.8 L1658.5 1128.0 L1660.1 1122.2 L1661.6 1116.5 L1663.1 1110.7 L1664.6 1104.8 L1666.0 1099.0 L1667.3 1093.2 L1668.7 1087.3 L1670.0 1081.5 L1671.3 1075.6 L1672.6 1069.8 L1674.0 1063.9 L1675.3 1058.1 L1676.6 1052.2 L1677.9 1046.4 L1679.2 1040.5 L1680.5 1034.7 L1681.9 1028.8 L1683.2 1023.0 L1684.5 1017.1 L1685.9 1011.3 L1687.2 1005.4 L1688.5 999.6 L1689.8 993.7 L1691.1 987.9 L1692.3 982.0 L1693.6 976.2 L1694.9 970.3 L1696.2 964.4 L1697.4 958.6 L1698.7 952.7 L1700.0 946.9 L1701.3 941.0 L1702.6 935.2 L1704.0 929.3 L1705.3 923.5 L1706.6 917.6 L1707.8 911.8 L1709.0 905.9 L1710.2 900.0 L1711.4 894.1 L1712.5 888.3 L1713.6 882.4 L1714.7 876.5 L1715.8 870.6 L1716.8 864.7 L1717.9 858.8 L1719.0 852.9 L1720.1 847.0 L1721.3 841.1 L1722.5 835.2 L1723.6 829.3 L1724.9 823.5 L1726.1 817.6 L1727.4 811.7 L1728.7 805.9 L1730.0 800.0 L1731.3 794.2 L1732.6 788.3 L1733.9 782.5 L1735.3 776.6 L1736.6 770.8 L1738.0 764.9 L1739.3 759.1 L1740.6 753.2 L1742.0 747.4 L1743.3 741.5 L1744.6 735.7 L1745.9 729.8 L1747.2 723.9 L1748.5 718.1 L1749.8 712.2 L1751.0 706.4 L1752.3 700.5 L1753.5 694.6 L1754.7 688.7 L1755.9 682.9 L1757.1 677.0 L1758.3 671.1 L1759.5 665.2 L1760.7 659.3 L1761.9 653.5 L1763.1 647.6 L1764.3 641.7 L1765.6 635.8 L1766.8 630.0 L1768.1 624.1 L1769.4 618.2 L1770.7 612.4 L1772.0 606.5 L1773.3 600.7 L1774.6 594.8 L1776.0 589.0 L1777.3 583.1 L1778.7 577.3 L1780.0 571.4 L1781.3 565.6 L1782.7 559.7 L1784.0 553.9 L1785.3 548.0 L1786.6 542.2 L1787.9 536.3 L1789.3 530.5 L1790.6 524.6 L1792.0 518.8 L1793.3 512.9 L1794.7 507.1 L1796.1 501.3 L1797.5 495.4 L1798.9 489.6 L1800.4 483.8 L1801.9 478.0 L1803.3 472.2 L1804.9 466.4 L1806.4 460.6 L1807.9 454.8 L1809.5 449.0 L1811.0 443.2 L1812.6 437.4 L1814.2 431.6 L1815.8 425.8 L1817.5 420.0 L1819.1 414.3 L1820.9 408.6 L1822.6 402.9 L1824.5 397.2 L1826.4 391.6 L1828.4 386.0 L1830.5 380.5 L1832.7 375.0 L1835.0 369.5 L1836.5 365.9" stroke="#fff5f2" stroke-width="9" transform="translate(3.5,0)"/>
</g>
<g id="annotations" font-family="'Liberation Sans',Arial,sans-serif" font-weight="bold">
<text transform="translate(1689.32,307.85) scale(0.9317,1)" font-size="65.2" fill="#f08a3c"  stroke="#fff" stroke-width="0.9" stroke-linejoin="round">0.89</text>
<text transform="translate(1846.38,409.85) scale(0.9492,1)" font-size="65.2" fill="#d8343a"  stroke="#fff" stroke-width="0.9" stroke-linejoin="round">0.82</text>
<text transform="translate(1846.38,473.25) scale(0.9492,1)" font-size="65.2" fill="#3f49ab"  stroke="#fff" stroke-width="0.9" stroke-linejoin="round">0.82</text>
<text transform="translate(1412.12,702.65) scale(0.9317,1)" font-size="65.2" fill="#f08a3c"  stroke="#fff" stroke-width="0.9" stroke-linejoin="round">0.63</text>
<text transform="translate(1199.34,1430.15) scale(0.9621,1)" font-size="65.2" fill="#f08a3c"  stroke="#fff" stroke-width="0.9" stroke-linejoin="round">0.2</text>
<text transform="translate(1439.69,1405.75) scale(0.9849,1)" font-size="65.2" fill="#3f49ab"  stroke="#fff" stroke-width="0.9" stroke-linejoin="round">0.21</text>
<rect transform="translate(1439.69,1405.75) scale(0.9849,1)" x="93.57" y="-8.75" width="12.81" height="9.87" fill="#fff"/>
<rect transform="translate(1439.69,1405.75) scale(0.9849,1)" x="114.41" y="-8.75" width="12.27" height="9.87" fill="#fff"/>
<text transform="translate(1578.60,1484.15) scale(0.9382,1)" font-size="65.2" fill="#d8343a"  stroke="#fff" stroke-width="0.9" stroke-linejoin="round">0.19</text>
<rect transform="translate(1578.60,1484.15) scale(0.9382,1)" x="57.28" y="-8.75" width="12.83" height="9.87" fill="#fff"/>
<rect transform="translate(1578.60,1484.15) scale(0.9382,1)" x="78.10" y="-8.75" width="12.29" height="9.87" fill="#fff"/>
<text transform="translate(1340.80,1712.95) scale(0.9402,1)" font-size="65.2" fill="#d8343a"  stroke="#fff" stroke-width="0.9" stroke-linejoin="round">0.02</text>
<text transform="translate(1170.77,1712.85) scale(0.9533,1)" font-size="65.2" fill="#3f49ab"  stroke="#fff" stroke-width="0.9" stroke-linejoin="round">0.02</text>
</g>
<g id="curves" fill="none" stroke-linejoin="round">
<path d="M249.3 1754.6 L255.3 1754.6 L261.3 1754.6 L267.3 1754.6 L273.3 1754.6 L279.3 1754.6 L285.3 1754.6 L291.3 1754.6 L297.3 1754.6 L303.3 1754.6 L309.3 1754.6 L315.3 1754.6 L321.3 1754.6 L327.3 1754.6 L333.3 1754.6 L339.3 1754.6 L345.3 1754.6 L351.3 1754.6 L357.3 1754.6 L363.3 1754.6 L369.3 1754.6 L375.3 1754.6 L381.3 1754.6 L387.3 1754.6 L393.3 1754.6 L399.3 1754.6 L405.3 1754.6 L411.3 1754.6 L417.3 1754.6 L423.3 1754.6 L429.3 1754.6 L435.3 1754.6 L441.3 1754.6 L447.3 1754.6 L453.3 1754.6 L459.3 1754.6 L465.3 1754.6 L471.3 1754.6 L477.3 1754.6 L483.3 1754.6 L489.3 1754.6 L495.3 1754.6 L501.3 1754.6 L507.3 1754.6 L513.3 1754.6 L519.3 1754.6 L525.3 1754.6 L531.3 1754.6 L537.3 1754.6 L543.3 1754.6 L549.3 1754.6 L555.3 1754.6 L561.3 1754.6 L567.3 1754.6 L573.3 1754.6 L579.3 1754.6 L585.3 1754.6 L591.3 1754.6 L597.3 1754.5 L603.3 1754.5 L609.3 1754.5 L615.3 1754.5 L621.3 1754.5 L627.3 1754.5 L633.3 1754.5 L639.3 1754.5 L645.3 1754.5 L651.3 1754.5 L657.3 1754.5 L663.3 1754.5 L669.3 1754.5 L675.3 1754.5 L681.3 1754.5 L687.3 1754.5 L693.3 1754.5 L699.3 1754.5 L705.3 1754.5 L711.3 1754.4 L717.3 1754.4 L723.3 1754.4 L729.3 1754.3 L735.3 1754.3 L741.3 1754.2 L747.3 1754.1 L753.3 1754.1 L759.3 1754.0 L765.3 1753.9 L771.3 1753.9 L777.3 1753.8 L783.3 1753.7 L789.3 1753.7 L795.3 1753.6 L801.3 1753.5 L807.3 1753.4 L813.3 1753.3 L819.3 1753.2 L825.3 1753.1 L831.3 1753.0 L837.3 1752.9 L843.3 1752.7 L849.3 1752.6 L855.3 1752.4 L861.3 1752.3 L867.3 1752.1 L873.3 1751.8 L879.3 1751.6 L885.3 1751.2 L891.2 1750.8 L897.2 1750.3 L903.2 1749.8 L909.2 1749.1 L915.1 1748.4 L921.1 1747.7 L927.0 1746.8 L933.0 1745.9 L938.9 1745.0 L944.8 1743.9 L950.7 1742.8 L956.6 1741.6 L962.5 1740.3 L968.3 1738.9 L974.1 1737.4 L979.9 1735.7 L985.6 1734.0 L991.2 1732.1 L996.8 1730.1 L1002.4 1727.9 L1007.9 1725.6 L1013.4 1723.1 L1018.8 1720.6 L1024.2 1717.9 L1029.6 1715.2 L1035.0 1712.5 L1040.3 1709.7 L1045.7 1707.0 L1051.0 1704.2 L1056.3 1701.3 L1061.5 1698.4 L1066.8 1695.5 L1072.0 1692.6 L1077.2 1689.6 L1082.4 1686.7 L1087.7 1683.7 L1092.9 1680.7 L1098.1 1677.8 L1103.3 1674.8 L1108.6 1671.9 L1113.8 1669.0 L1119.0 1666.0 L1124.3 1663.1 L1129.5 1660.1 L1134.7 1657.2 L1139.9 1654.2 L1145.2 1651.3 L1150.4 1648.3 L1155.6 1645.4 L1160.8 1642.4 L1166.1 1639.5 L1171.3 1636.5 L1176.5 1633.6 L1181.7 1630.6 L1187.0 1627.6 L1192.2 1624.7 L1197.4 1621.7 L1202.6 1618.8 L1207.8 1615.8 L1213.0 1612.7 L1218.1 1609.5 L1223.1 1606.2 L1228.0 1602.8 L1232.7 1599.0 L1237.0 1595.1 L1241.0 1590.8 L1244.5 1586.1 L1247.6 1581.2 L1250.2 1575.9 L1252.6 1570.5 L1254.8 1564.9 L1256.8 1559.3 L1258.8 1553.6 L1260.8 1547.9 L1262.8 1542.2 L1264.8 1536.6 L1266.8 1531.0 L1268.9 1525.3 L1271.1 1519.7 L1273.2 1514.1 L1275.4 1508.5 L1277.6 1502.9 L1279.7 1497.3 L1281.9 1491.8 L1284.1 1486.2 L1286.3 1480.6 L1288.5 1475.0 L1290.7 1469.4 L1292.8 1463.8 L1294.8 1458.2 L1296.8 1452.5 L1298.8 1446.8 L1300.7 1441.1 L1302.6 1435.5 L1304.6 1429.8 L1306.7 1424.2 L1308.8 1418.6 L1311.0 1413.0 L1313.2 1407.4 L1315.5 1401.9 L1317.7 1396.3 L1319.9 1390.7 L1322.1 1385.1 L1324.3 1379.6 L1326.5 1374.0 L1328.6 1368.4 L1330.7 1362.7 L1332.8 1357.1 L1334.9 1351.5 L1336.9 1345.8 L1338.9 1340.2 L1340.9 1334.5 L1342.9 1328.9 L1344.9 1323.2 L1347.0 1317.6 L1349.0 1311.9 L1351.1 1306.3 L1353.2 1300.7 L1355.3 1295.1 L1357.5 1289.5 L1359.7 1283.9 L1361.9 1278.3 L1364.0 1272.7 L1366.2 1267.1 L1368.3 1261.5 L1370.3 1255.9 L1372.1 1250.2 L1373.9 1244.4 L1375.5 1238.7 L1377.1 1232.9 L1378.7 1227.1 L1380.2 1221.3 L1381.8 1215.5 L1383.4 1209.7 L1385.0 1203.9 L1386.8 1198.2 L1388.6 1192.5 L1390.5 1186.8 L1392.5 1181.2 L1394.5 1175.5 L1396.5 1169.8 L1398.4 1164.2 L1400.3 1158.5 L1402.2 1152.8 L1404.1 1147.1 L1406.0 1141.4 L1407.9 1135.7 L1409.8 1130.0 L1411.8 1124.3 L1413.7 1118.7 L1415.7 1113.0 L1417.7 1107.3 L1419.8 1101.7 L1421.9 1096.1 L1424.0 1090.5 L1426.3 1084.9 L1428.5 1079.4 L1430.8 1073.8 L1433.0 1068.3 L1435.1 1062.7 L1437.2 1057.0 L1439.3 1051.4 L1441.4 1045.8 L1443.5 1040.2 L1445.6 1034.5 L1447.7 1028.9 L1449.7 1023.3 L1451.7 1017.7 L1453.6 1012.0 L1455.3 1006.2 L1457.1 1000.5 L1458.8 994.7 L1460.5 989.0 L1462.2 983.2 L1463.9 977.5 L1465.6 971.7 L1467.3 966.0 L1469.0 960.2 L1470.7 954.5 L1472.5 948.8 L1474.6 943.2 L1476.9 937.8 L1479.5 932.4 L1482.4 927.2 L1485.3 921.9 L1488.2 916.7 L1491.1 911.5 L1493.8 906.1 L1496.3 900.7 L1498.6 895.2 L1500.6 889.6 L1502.5 883.9 L1504.2 878.2 L1505.9 872.4 L1507.5 866.6 L1509.2 860.9 L1510.9 855.1 L1512.6 849.4 L1514.3 843.6 L1515.9 837.8 L1517.3 832.0 L1518.7 826.2 L1520.0 820.4 L1521.4 814.5 L1522.8 808.7 L1524.4 803.0 L1526.1 797.2 L1527.9 791.5 L1529.6 785.8 L1531.3 780.0 L1532.8 774.2 L1534.3 768.4 L1535.8 762.6 L1537.4 756.8 L1539.0 751.1 L1540.9 745.4 L1542.9 739.7 L1545.0 734.1 L1547.2 728.5 L1549.5 723.0 L1552.1 717.7 L1555.0 712.6 L1558.3 707.8 L1562.0 703.3 L1565.9 698.9 L1570.0 694.6 L1574.1 690.3 L1577.9 685.8 L1581.5 681.0 L1584.8 676.1 L1587.7 670.9 L1590.4 665.6 L1592.9 660.2 L1595.4 654.7 L1597.8 649.2 L1600.2 643.7 L1602.6 638.2 L1604.9 632.7 L1607.3 627.1 L1609.5 621.6 L1611.8 616.0 L1614.0 610.4 L1616.1 604.8 L1618.3 599.3 L1620.6 593.7 L1622.9 588.2 L1625.2 582.7 L1627.7 577.2 L1630.1 571.7 L1632.7 566.3 L1635.3 560.9 L1638.1 555.6 L1641.1 550.5 L1644.4 545.6 L1648.0 540.9 L1652.0 536.5 L1656.3 532.4 L1660.8 528.5 L1665.5 524.9 L1670.5 521.6 L1675.5 518.4 L1680.7 515.2 L1685.8 512.2 L1690.9 509.0 L1695.9 505.8 L1700.8 502.3 L1705.5 498.7 L1710.0 494.8 L1714.4 490.7 L1718.7 486.5 L1722.8 482.1 L1726.7 477.6 L1730.4 472.9 L1733.9 468.1 L1737.1 463.1 L1740.2 458.0 L1743.0 452.7 L1745.6 447.3 L1748.1 441.9 L1750.6 436.4 L1753.2 431.0 L1755.7 425.5 L1758.4 420.1 L1761.2 414.8 L1764.0 409.5 L1766.9 404.3 L1769.8 399.0 L1772.7 393.8 L1775.6 388.5 L1778.4 383.2 L1781.1 377.9 L1783.8 372.5 L1786.4 367.1 L1788.9 361.6 L1791.4 356.2 L1794.0 350.7 L1796.5 345.3 L1799.0 339.8 L1801.5 334.4 L1804.0 328.9 L1806.6 323.5 L1809.2 318.1 L1811.9 312.8 L1814.7 307.5 L1817.5 302.2 L1820.5 297.0 L1823.6 291.8 L1826.7 286.7 L1829.9 281.6 L1833.1 276.6 L1836.4 271.5 L1839.7 266.5 L1843.0 261.5 L1846.3 256.5 L1849.7 251.6 L1853.0 246.6 L1856.4 241.6 L1859.7 236.6 L1863.2 231.7 L1866.6 226.8 L1870.1 221.9 L1873.6 217.0 L1877.1 212.2 L1880.6 207.3 L1884.1 202.5 L1887.7 197.6 L1891.2 192.8 L1894.8 188.0 L1898.5 183.2 L1902.1 178.4 L1905.9 173.7 L1909.7 169.2 L1913.7 164.7 L1917.8 160.4 L1922.1 156.3 L1926.6 152.3 L1931.3 148.6 L1936.0 144.9 L1940.8 141.3 L1945.6 137.7 L1950.3 134.0 L1954.8 130.1 L1959.2 126.1 L1963.5 121.9 L1967.6 117.6 L1971.7 113.3 L1975.9 109.1 L1980.2 105.0 L1984.5 101.1 L1989.0 97.3 L1993.4 93.7 L1994.9 92.6" stroke="#cbbf98" stroke-width="3.3" stroke-dasharray="38 17 9 14"/>
<path d="M249.3 1754.6 L255.3 1754.6 L261.3 1754.6 L267.3 1754.6 L273.3 1754.6 L279.3 1754.6 L285.3 1754.6 L291.3 1754.6 L297.3 1754.6 L303.3 1754.6 L309.3 1754.6 L315.3 1754.6 L321.3 1754.6 L327.3 1754.6 L333.3 1754.6 L339.3 1754.6 L345.3 1754.6 L351.3 1754.6 L357.3 1754.6 L363.3 1754.6 L369.3 1754.6 L375.3 1754.6 L381.3 1754.6 L387.3 1754.6 L393.3 1754.6 L399.3 1754.6 L405.3 1754.6 L411.3 1754.6 L417.3 1754.6 L423.3 1754.6 L429.3 1754.6 L435.3 1754.6 L441.3 1754.5 L447.3 1754.5 L453.3 1754.5 L459.3 1754.5 L465.3 1754.5 L471.3 1754.5 L477.3 1754.5 L483.3 1754.5 L489.3 1754.5 L495.3 1754.5 L501.3 1754.5 L507.3 1754.5 L513.3 1754.5 L519.3 1754.5 L525.3 1754.5 L531.3 1754.5 L537.3 1754.5 L543.3 1754.5 L549.3 1754.5 L555.3 1754.5 L561.3 1754.5 L567.3 1754.5 L573.3 1754.4 L579.3 1754.4 L585.3 1754.4 L591.3 1754.4 L597.3 1754.4 L603.3 1754.4 L609.3 1754.4 L615.3 1754.4 L621.3 1754.4 L627.3 1754.4 L633.3 1754.4 L639.3 1754.4 L645.3 1754.4 L651.3 1754.4 L657.3 1754.4 L663.3 1754.4 L669.3 1754.3 L675.3 1754.3 L681.3 1754.3 L687.3 1754.3 L693.3 1754.3 L699.3 1754.3 L705.3 1754.3 L711.3 1754.3 L717.3 1754.3 L723.3 1754.3 L729.3 1754.3 L735.3 1754.3 L741.3 1754.2 L747.3 1754.2 L753.3 1754.2 L759.3 1754.2 L765.3 1754.2 L771.3 1754.2 L777.3 1754.2 L783.3 1754.2 L789.3 1754.2 L795.3 1754.1 L801.3 1754.1 L807.3 1754.1 L813.3 1754.1 L819.3 1754.1 L825.3 1754.0 L831.3 1754.0 L837.3 1754.0 L843.3 1754.0 L849.3 1753.9 L855.3 1753.9 L861.3 1753.8 L867.3 1753.8 L873.3 1753.8 L879.3 1753.7 L885.3 1753.7 L891.3 1753.6 L897.3 1753.6 L903.3 1753.5 L909.3 1753.5 L915.3 1753.4 L921.3 1753.4 L927.3 1753.3 L933.3 1753.3 L939.3 1753.2 L945.3 1753.1 L951.3 1753.1 L957.3 1753.0 L963.3 1752.9 L969.3 1752.9 L975.3 1752.8 L981.3 1752.7 L987.3 1752.6 L993.3 1752.5 L999.3 1752.4 L1005.3 1752.2 L1011.3 1752.1 L1017.3 1752.0 L1023.3 1751.8 L1029.3 1751.6 L1035.3 1751.4 L1041.3 1751.2 L1047.3 1751.0 L1053.3 1750.8 L1059.3 1750.6 L1065.3 1750.3 L1071.3 1750.1 L1077.2 1749.8 L1083.2 1749.5 L1089.2 1749.3 L1095.2 1749.0 L1101.2 1748.7 L1107.2 1748.4 L1113.2 1748.1 L1119.2 1747.8 L1125.2 1747.4 L1131.2 1747.1 L1137.2 1746.7 L1143.2 1746.4 L1149.1 1746.0 L1155.1 1745.5 L1161.1 1745.1 L1167.1 1744.6 L1173.1 1744.1 L1179.0 1743.6 L1185.0 1743.1 L1191.0 1742.5 L1197.0 1741.9 L1202.9 1741.3 L1208.9 1740.6 L1214.9 1739.9 L1220.8 1739.2 L1226.8 1738.5 L1232.7 1737.7 L1238.6 1736.9 L1244.6 1736.0 L1250.5 1735.1 L1256.4 1734.1 L1262.3 1733.0 L1268.2 1731.9 L1274.0 1730.7 L1279.9 1729.4 L1285.7 1728.0 L1291.5 1726.6 L1297.3 1725.0 L1303.1 1723.4 L1308.8 1721.7 L1314.5 1719.8 L1320.2 1717.9 L1325.8 1715.9 L1331.4 1713.8 L1336.9 1711.5 L1342.4 1709.1 L1347.8 1706.7 L1353.2 1704.1 L1358.5 1701.3 L1363.7 1698.5 L1368.9 1695.5 L1374.0 1692.5 L1379.0 1689.2 L1384.0 1685.9 L1388.8 1682.5 L1393.6 1678.9 L1398.3 1675.2 L1402.9 1671.4 L1407.5 1667.6 L1411.9 1663.6 L1416.2 1659.5 L1420.5 1655.3 L1424.7 1651.0 L1428.8 1646.6 L1432.8 1642.2 L1436.7 1637.7 L1440.5 1633.1 L1444.3 1628.5 L1448.0 1623.8 L1451.6 1619.0 L1455.2 1614.2 L1458.7 1609.3 L1462.1 1604.4 L1465.5 1599.5 L1468.8 1594.5 L1472.1 1589.5 L1475.4 1584.4 L1478.6 1579.3 L1481.7 1574.3 L1484.9 1569.2 L1488.0 1564.0 L1491.2 1558.9 L1494.3 1553.8 L1497.4 1548.7 L1500.5 1543.5 L1503.6 1538.4 L1506.7 1533.3 L1509.8 1528.1 L1512.8 1523.0 L1515.8 1517.8 L1518.8 1512.6 L1521.7 1507.3 L1524.6 1502.1 L1527.4 1496.8 L1530.1 1491.5 L1532.7 1486.1 L1535.3 1480.7 L1537.8 1475.2 L1540.3 1469.8 L1542.6 1464.3 L1545.0 1458.8 L1547.2 1453.2 L1549.5 1447.6 L1551.7 1442.1 L1553.8 1436.5 L1556.0 1430.9 L1558.1 1425.3 L1560.2 1419.7 L1562.3 1414.1 L1564.3 1408.5 L1566.3 1402.8 L1568.2 1397.2 L1570.1 1391.5 L1572.0 1385.8 L1573.8 1380.1 L1575.5 1374.4 L1577.2 1368.6 L1578.9 1362.8 L1580.5 1357.1 L1582.2 1351.3 L1583.8 1345.5 L1585.4 1339.7 L1587.1 1334.0 L1588.7 1328.2 L1590.4 1322.4 L1592.1 1316.6 L1593.7 1310.9 L1595.4 1305.1 L1597.1 1299.4 L1598.8 1293.6 L1600.5 1287.8 L1602.2 1282.1 L1603.8 1276.3 L1605.5 1270.6 L1607.1 1264.8 L1608.8 1259.0 L1610.4 1253.2 L1612.0 1247.4 L1613.5 1241.7 L1615.1 1235.9 L1616.6 1230.1 L1618.2 1224.3 L1619.7 1218.5 L1621.3 1212.7 L1622.8 1206.9 L1624.4 1201.1 L1625.9 1195.3 L1627.5 1189.5 L1629.1 1183.7 L1630.7 1177.9 L1632.3 1172.2 L1634.0 1166.4 L1635.6 1160.6 L1637.3 1154.8 L1638.9 1149.1 L1640.5 1143.3 L1642.1 1137.5 L1643.7 1131.8 L1645.3 1126.0 L1646.9 1120.2 L1648.4 1114.4 L1650.0 1108.6 L1651.5 1102.8 L1653.1 1097.0 L1654.6 1091.2 L1656.2 1085.5 L1657.8 1079.7 L1659.3 1073.9 L1660.9 1068.1 L1662.4 1062.3 L1663.9 1056.5 L1665.4 1050.7 L1666.9 1044.9 L1668.3 1039.1 L1669.7 1033.3 L1671.1 1027.4 L1672.4 1021.6 L1673.7 1015.7 L1675.0 1009.8 L1676.3 1004.0 L1677.6 998.1 L1678.8 992.2 L1680.1 986.4 L1681.3 980.5 L1682.5 974.6 L1683.8 968.8 L1685.0 962.9 L1686.3 957.0 L1687.5 951.1 L1688.8 945.3 L1690.0 939.4 L1691.3 933.5 L1692.5 927.7 L1693.8 921.8 L1695.1 915.9 L1696.4 910.1 L1697.6 904.2 L1698.9 898.4 L1700.2 892.5 L1701.5 886.7 L1702.8 880.8 L1704.1 874.9 L1705.4 869.1 L1706.7 863.2 L1708.0 857.4 L1709.3 851.5 L1710.7 845.7 L1712.0 839.8 L1713.3 833.9 L1714.6 828.1 L1716.0 822.3 L1717.3 816.4 L1718.7 810.6 L1720.1 804.7 L1721.4 798.9 L1722.8 793.1 L1724.2 787.2 L1725.7 781.4 L1727.1 775.6 L1728.5 769.7 L1729.9 763.9 L1731.3 758.1 L1732.7 752.2 L1734.1 746.4 L1735.5 740.6 L1736.9 734.7 L1738.2 728.9 L1739.5 723.0 L1740.9 717.2 L1742.2 711.3 L1743.5 705.5 L1744.7 699.6 L1746.0 693.7 L1747.3 687.9 L1748.5 682.0 L1749.7 676.1 L1751.0 670.2 L1752.2 664.4 L1753.4 658.5 L1754.7 652.6 L1756.0 646.8 L1757.2 640.9 L1758.6 635.1 L1759.9 629.2 L1761.2 623.4 L1762.6 617.5 L1764.0 611.7 L1765.5 605.9 L1766.9 600.1 L1768.4 594.2 L1769.8 588.4 L1771.3 582.6 L1772.8 576.8 L1774.3 571.0 L1775.8 565.2 L1777.3 559.4 L1778.8 553.6 L1780.3 547.7 L1781.8 541.9 L1783.4 536.1 L1784.9 530.3 L1786.5 524.6 L1788.0 518.8 L1789.6 513.0 L1791.3 507.2 L1792.9 501.4 L1794.5 495.7 L1796.2 489.9 L1797.9 484.1 L1799.5 478.4 L1801.2 472.6 L1802.9 466.8 L1804.6 461.1 L1806.2 455.3 L1807.9 449.5 L1809.6 443.8 L1811.3 438.0 L1812.9 432.2 L1814.6 426.5 L1816.3 420.7 L1818.0 415.0 L1819.8 409.3 L1821.6 403.5 L1823.4 397.9 L1825.4 392.2 L1827.3 386.6 L1829.3 380.9 L1831.4 375.3 L1833.5 369.8 L1835.6 364.2 L1837.8 358.6 L1840.0 353.1 L1842.2 347.5 L1844.3 341.9 L1846.5 336.4 L1848.7 330.8 L1850.9 325.2 L1853.1 319.6 L1855.2 314.0 L1857.4 308.4 L1859.6 302.9 L1861.8 297.3 L1864.1 291.7 L1866.3 286.1 L1868.5 280.6 L1870.8 275.0 L1873.1 269.5 L1875.4 263.9 L1877.7 258.4 L1880.1 252.9 L1882.6 247.4 L1885.0 242.0 L1887.6 236.6 L1890.2 231.2 L1892.8 225.8 L1895.6 220.5 L1898.4 215.2 L1901.3 210.0 L1904.3 204.8 L1907.3 199.6 L1910.4 194.5 L1913.6 189.5 L1916.9 184.5 L1920.2 179.5 L1923.6 174.6 L1927.1 169.7 L1930.6 164.8 L1934.2 160.0 L1937.8 155.2 L1941.4 150.5 L1945.1 145.8 L1948.9 141.1 L1952.7 136.5 L1956.5 131.9 L1960.4 127.5 L1964.4 123.0 L1968.4 118.7 L1972.5 114.4 L1976.6 110.3 L1980.9 106.2 L1985.1 102.2 L1989.4 98.3 L1993.8 94.5 L1995.2 93.3" stroke="#2f687c" stroke-width="4.6"/>
<path d="M1303.3 1724.3 L1309.0 1722.4 L1314.7 1720.6 L1320.4 1718.7 L1326.1 1716.7 L1331.7 1714.7 L1337.4 1712.6 L1343.0 1710.5 L1348.5 1708.3 L1354.1 1706.0 L1359.6 1703.6 L1365.0 1701.2 L1370.5 1698.7 L1375.9 1696.0 L1381.2 1693.4 L1386.5 1690.6 L1391.8 1687.7 L1397.0 1684.7 L1402.1 1681.7 L1407.2 1678.5 L1412.2 1675.3 L1417.1 1671.9 L1421.9 1668.4 L1426.6 1664.8 L1431.3 1661.1 L1435.8 1657.2 L1440.2 1653.2 L1444.5 1649.1 L1448.6 1644.9 L1452.7 1640.5 L1456.6 1636.1 L1460.4 1631.5 L1464.2 1626.9 L1467.9 1622.2 L1471.6 1617.5 L1475.2 1612.7 L1478.8 1607.9 L1482.3 1603.1 L1485.8 1598.2 L1489.3 1593.4 L1492.8 1588.5 L1496.2 1583.6 L1499.6 1578.6 L1502.9 1573.6 L1506.1 1568.6 L1509.2 1563.5 L1512.2 1558.4 L1515.2 1553.2 L1518.0 1548.0 L1520.8 1542.7 L1523.6 1537.4 L1526.3 1532.1 L1529.0 1526.7 L1531.6 1521.3 L1534.3 1515.9 L1536.9 1510.5 L1539.5 1505.1 L1542.0 1499.7 L1544.5 1494.3 L1547.0 1488.8 L1549.4 1483.3 L1551.7 1477.8 L1554.0 1472.3 L1556.2 1466.7 L1558.4 1461.1 L1560.5 1455.5 L1562.5 1449.9 L1564.6 1444.2 L1566.5 1438.6 L1568.5 1432.9 L1570.4 1427.2 L1572.3 1421.5 L1574.3 1415.9 L1576.2 1410.2 L1578.1 1404.5 L1579.9 1398.8 L1581.8 1393.1 L1583.7 1387.4 L1585.6 1381.7 L1587.4 1376.0 L1589.2 1370.3 L1591.1 1364.5 L1592.9 1358.8 L1594.6 1353.1 L1596.4 1347.3 L1598.1 1341.6 L1599.8 1335.9 L1601.5 1330.1 L1603.1 1324.3 L1604.8 1318.6 L1606.4 1312.8 L1608.0 1307.0 L1609.6 1301.2 L1611.1 1295.4 L1612.7 1289.6 L1614.3 1283.8 L1615.8 1278.0 L1617.4 1272.2 L1618.9 1266.4 L1620.5 1260.6 L1622.0 1254.9 L1623.6 1249.1 L1625.2 1243.3 L1626.8 1237.5 L1628.3 1231.7 L1629.9 1225.9 L1631.5 1220.1 L1633.1 1214.3 L1634.8 1208.6 L1636.4 1202.8 L1638.0 1197.0 L1639.7 1191.3 L1641.4 1185.5 L1643.1 1179.7 L1644.9 1174.0 L1646.6 1168.3 L1648.3 1162.5 L1650.1 1156.8 L1651.8 1151.0 L1653.6 1145.3 L1655.3 1139.6 L1656.9 1133.8 L1658.5 1128.0 L1660.1 1122.2 L1661.6 1116.5 L1663.1 1110.7 L1664.6 1104.8 L1666.0 1099.0 L1667.3 1093.2 L1668.7 1087.3 L1670.0 1081.5 L1671.3 1075.6 L1672.6 1069.8 L1674.0 1063.9 L1675.3 1058.1 L1676.6 1052.2 L1677.9 1046.4 L1679.2 1040.5 L1680.5 1034.7 L1681.9 1028.8 L1683.2 1023.0 L1684.5 1017.1 L1685.9 1011.3 L1687.2 1005.4 L1688.5 999.6 L1689.8 993.7 L1691.1 987.9 L1692.3 982.0 L1693.6 976.2 L1694.9 970.3 L1696.2 964.4 L1697.4 958.6 L1698.7 952.7 L1700.0 946.9 L1701.3 941.0 L1702.6 935.2 L1704.0 929.3 L1705.3 923.5 L1706.6 917.6 L1707.8 911.8 L1709.0 905.9 L1710.2 900.0 L1711.4 894.1 L1712.5 888.3 L1713.6 882.4 L1714.7 876.5 L1715.8 870.6 L1716.8 864.7 L1717.9 858.8 L1719.0 852.9 L1720.1 847.0 L1721.3 841.1 L1722.5 835.2 L1723.6 829.3 L1724.9 823.5 L1726.1 817.6 L1727.4 811.7 L1728.7 805.9 L1730.0 800.0 L1731.3 794.2 L1732.6 788.3 L1733.9 782.5 L1735.3 776.6 L1736.6 770.8 L1738.0 764.9 L1739.3 759.1 L1740.6 753.2 L1742.0 747.4 L1743.3 741.5 L1744.6 735.7 L1745.9 729.8 L1747.2 723.9 L1748.5 718.1 L1749.8 712.2 L1751.0 706.4 L1752.3 700.5 L1753.5 694.6 L1754.7 688.7 L1755.9 682.9 L1757.1 677.0 L1758.3 671.1 L1759.5 665.2 L1760.7 659.3 L1761.9 653.5 L1763.1 647.6 L1764.3 641.7 L1765.6 635.8 L1766.8 630.0 L1768.1 624.1 L1769.4 618.2 L1770.7 612.4 L1772.0 606.5 L1773.3 600.7 L1774.6 594.8 L1776.0 589.0 L1777.3 583.1 L1778.7 577.3 L1780.0 571.4 L1781.3 565.6 L1782.7 559.7 L1784.0 553.9 L1785.3 548.0 L1786.6 542.2 L1787.9 536.3 L1789.3 530.5 L1790.6 524.6 L1792.0 518.8 L1793.3 512.9 L1794.7 507.1 L1796.1 501.3 L1797.5 495.4 L1798.9 489.6 L1800.4 483.8 L1801.9 478.0 L1803.3 472.2 L1804.9 466.4 L1806.4 460.6 L1807.9 454.8 L1809.5 449.0 L1811.0 443.2 L1812.6 437.4 L1814.2 431.6 L1815.8 425.8 L1817.5 420.0 L1819.1 414.3 L1820.9 408.6 L1822.6 402.9 L1824.5 397.2 L1826.4 391.6 L1828.4 386.0 L1830.5 380.5 L1832.7 375.0 L1835.0 369.5 L1836.5 365.9" stroke="#a5776e" stroke-width="3.9" stroke-dasharray="46 32"/>
<path d="M1814.6 426.5 L1816.3 420.7 L1818.0 415.0 L1819.8 409.3 L1821.6 403.5 L1823.4 397.9 L1825.4 392.2 L1827.3 386.6 L1829.3 380.9 L1831.4 375.3 L1833.5 369.8 L1835.6 364.2 L1837.8 358.6 L1840.0 353.1 L1842.2 347.5 L1844.3 341.9 L1846.5 336.4 L1848.7 330.8 L1850.9 325.2 L1853.1 319.6 L1855.2 314.0 L1857.4 308.4 L1859.6 302.9 L1861.8 297.3 L1864.1 291.7 L1866.3 286.1 L1868.5 280.6 L1870.8 275.0 L1873.1 269.5 L1875.4 263.9 L1877.7 258.4 L1880.1 252.9 L1882.6 247.4 L1885.0 242.0 L1887.6 236.6 L1890.2 231.2 L1892.8 225.8 L1895.6 220.5 L1898.4 215.2 L1901.3 210.0 L1904.3 204.8 L1907.3 199.6 L1910.4 194.5 L1913.6 189.5 L1916.9 184.5 L1920.2 179.5 L1923.6 174.6 L1927.1 169.7 L1930.6 164.8 L1934.2 160.0 L1937.8 155.2 L1941.4 150.5 L1945.1 145.8 L1948.9 141.1 L1952.7 136.5 L1956.5 131.9 L1960.4 127.5 L1964.4 123.0 L1968.4 118.7 L1972.5 114.4 L1976.6 110.3 L1980.9 106.2 L1985.1 102.2 L1989.4 98.3 L1993.8 94.5 L1995.2 93.3" stroke="#505a64" stroke-width="5"/>
<path d="M1950.3 134.0 L1954.8 130.1 L1959.2 126.1 L1963.5 121.9 L1967.6 117.6 L1971.7 113.3 L1975.9 109.1 L1980.2 105.0 L1984.5 101.1 L1989.0 97.3 L1993.4 93.7 L1994.9 92.6" stroke="#a88e60" stroke-width="5.2"/>
</g>
<g id="axes" stroke="#202020" stroke-width="4.5" fill="none">
<rect x="249.3" y="93.3" width="2103.8999999999996" height="1661.5"/>
<line x1="249.3" x2="268.8" y1="258.5" y2="258.5"/><line x1="2353.2" x2="2333.7" y1="258.5" y2="258.5"/>
<line x1="249.3" x2="268.8" y1="423.4" y2="423.4"/><line x1="2353.2" x2="2333.7" y1="423.4" y2="423.4"/>
<line x1="249.3" x2="268.8" y1="588.6" y2="588.6"/><line x1="2353.2" x2="2333.7" y1="588.6" y2="588.6"/>
<line x1="249.3" x2="268.8" y1="758.6" y2="758.6"/><line x1="2353.2" x2="2333.7" y1="758.6" y2="758.6"/>
<line x1="249.3" x2="268.8" y1="924.0" y2="924.0"/><line x1="2353.2" x2="2333.7" y1="924.0" y2="924.0"/>
<line x1="249.3" x2="268.8" y1="1089.3" y2="1089.3"/><line x1="2353.2" x2="2333.7" y1="1089.3" y2="1089.3"/>
<line x1="249.3" x2="268.8" y1="1258.5" y2="1258.5"/><line x1="2353.2" x2="2333.7" y1="1258.5" y2="1258.5"/>
<line x1="249.3" x2="268.8" y1="1424.0" y2="1424.0"/><line x1="2353.2" x2="2333.7" y1="1424.0" y2="1424.0"/>
<line x1="249.3" x2="268.8" y1="1589.4" y2="1589.4"/><line x1="2353.2" x2="2333.7" y1="1589.4" y2="1589.4"/>
<line x1="326.9" x2="326.9" y1="93.3" y2="104.8"/><line x1="326.9" x2="326.9" y1="1754.8" y2="1743.3"/>
<line x1="373.2" x2="373.2" y1="93.3" y2="104.8"/><line x1="373.2" x2="373.2" y1="1754.8" y2="1743.3"/>
<line x1="406.1" x2="406.1" y1="93.3" y2="104.8"/><line x1="406.1" x2="406.1" y1="1754.8" y2="1743.3"/>
<line x1="431.6" x2="431.6" y1="93.3" y2="104.8"/><line x1="431.6" x2="431.6" y1="1754.8" y2="1743.3"/>
<line x1="452.5" x2="452.5" y1="93.3" y2="104.8"/><line x1="452.5" x2="452.5" y1="1754.8" y2="1743.3"/>
<line x1="470.1" x2="470.1" y1="93.3" y2="104.8"/><line x1="470.1" x2="470.1" y1="1754.8" y2="1743.3"/>
<line x1="485.4" x2="485.4" y1="93.3" y2="104.8"/><line x1="485.4" x2="485.4" y1="1754.8" y2="1743.3"/>
<line x1="498.9" x2="498.9" y1="93.3" y2="104.8"/><line x1="498.9" x2="498.9" y1="1754.8" y2="1743.3"/>
<line x1="510.9" x2="510.9" y1="93.3" y2="104.8"/><line x1="510.9" x2="510.9" y1="1754.8" y2="1743.3"/>
<line x1="590.2" x2="590.2" y1="93.3" y2="104.8"/><line x1="590.2" x2="590.2" y1="1754.8" y2="1743.3"/>
<line x1="636.5" x2="636.5" y1="93.3" y2="104.8"/><line x1="636.5" x2="636.5" y1="1754.8" y2="1743.3"/>
<line x1="669.4" x2="669.4" y1="93.3" y2="104.8"/><line x1="669.4" x2="669.4" y1="1754.8" y2="1743.3"/>
<line x1="694.9" x2="694.9" y1="93.3" y2="104.8"/><line x1="694.9" x2="694.9" y1="1754.8" y2="1743.3"/>
<line x1="715.8" x2="715.8" y1="93.3" y2="104.8"/><line x1="715.8" x2="715.8" y1="1754.8" y2="1743.3"/>
<line x1="733.4" x2="733.4" y1="93.3" y2="104.8"/><line x1="733.4" x2="733.4" y1="1754.8" y2="1743.3"/>
<line x1="748.7" x2="748.7" y1="93.3" y2="104.8"/><line x1="748.7" x2="748.7" y1="1754.8" y2="1743.3"/>
<line x1="762.2" x2="762.2" y1="93.3" y2="104.8"/><line x1="762.2" x2="762.2" y1="1754.8" y2="1743.3"/>
<line x1="774.2" x2="774.2" y1="93.3" y2="112.8"/><line x1="774.2" x2="774.2" y1="1754.8" y2="1735.3"/>
<line x1="853.5" x2="853.5" y1="93.3" y2="104.8"/><line x1="853.5" x2="853.5" y1="1754.8" y2="1743.3"/>
<line x1="899.8" x2="899.8" y1="93.3" y2="104.8"/><line x1="899.8" x2="899.8" y1="1754.8" y2="1743.3"/>
<line x1="932.7" x2="932.7" y1="93.3" y2="104.8"/><line x1="932.7" x2="932.7" y1="1754.8" y2="1743.3"/>
<line x1="958.2" x2="958.2" y1="93.3" y2="104.8"/><line x1="958.2" x2="958.2" y1="1754.8" y2="1743.3"/>
<line x1="979.1" x2="979.1" y1="93.3" y2="104.8"/><line x1="979.1" x2="979.1" y1="1754.8" y2="1743.3"/>
<line x1="996.7" x2="996.7" y1="93.3" y2="104.8"/><line x1="996.7" x2="996.7" y1="1754.8" y2="1743.3"/>
<line x1="1012.0" x2="1012.0" y1="93.3" y2="104.8"/><line x1="1012.0" x2="1012.0" y1="1754.8" y2="1743.3"/>
<line x1="1025.5" x2="1025.5" y1="93.3" y2="104.8"/><line x1="1025.5" x2="1025.5" y1="1754.8" y2="1743.3"/>
<line x1="1037.5" x2="1037.5" y1="93.3" y2="104.8"/><line x1="1037.5" x2="1037.5" y1="1754.8" y2="1743.3"/>
<line x1="1116.8" x2="1116.8" y1="93.3" y2="104.8"/><line x1="1116.8" x2="1116.8" y1="1754.8" y2="1743.3"/>
<line x1="1163.1" x2="1163.1" y1="93.3" y2="104.8"/><line x1="1163.1" x2="1163.1" y1="1754.8" y2="1743.3"/>
<line x1="1196.0" x2="1196.0" y1="93.3" y2="104.8"/><line x1="1196.0" x2="1196.0" y1="1754.8" y2="1743.3"/>
<line x1="1221.5" x2="1221.5" y1="93.3" y2="104.8"/><line x1="1221.5" x2="1221.5" y1="1754.8" y2="1743.3"/>
<line x1="1242.4" x2="1242.4" y1="93.3" y2="104.8"/><line x1="1242.4" x2="1242.4" y1="1754.8" y2="1743.3"/>
<line x1="1260.0" x2="1260.0" y1="93.3" y2="104.8"/><line x1="1260.0" x2="1260.0" y1="1754.8" y2="1743.3"/>
<line x1="1275.3" x2="1275.3" y1="93.3" y2="104.8"/><line x1="1275.3" x2="1275.3" y1="1754.8" y2="1743.3"/>
<line x1="1288.8" x2="1288.8" y1="93.3" y2="104.8"/><line x1="1288.8" x2="1288.8" y1="1754.8" y2="1743.3"/>
<line x1="1380.1" x2="1380.1" y1="93.3" y2="104.8"/><line x1="1380.1" x2="1380.1" y1="1754.8" y2="1743.3"/>
<line x1="1426.4" x2="1426.4" y1="93.3" y2="104.8"/><line x1="1426.4" x2="1426.4" y1="1754.8" y2="1743.3"/>
<line x1="1459.3" x2="1459.3" y1="93.3" y2="104.8"/><line x1="1459.3" x2="1459.3" y1="1754.8" y2="1743.3"/>
<line x1="1484.8" x2="1484.8" y1="93.3" y2="104.8"/><line x1="1484.8" x2="1484.8" y1="1754.8" y2="1743.3"/>
<line x1="1505.7" x2="1505.7" y1="93.3" y2="104.8"/><line x1="1505.7" x2="1505.7" y1="1754.8" y2="1743.3"/>
<line x1="1523.3" x2="1523.3" y1="93.3" y2="104.8"/><line x1="1523.3" x2="1523.3" y1="1754.8" y2="1743.3"/>
<line x1="1538.6" x2="1538.6" y1="93.3" y2="104.8"/><line x1="1538.6" x2="1538.6" y1="1754.8" y2="1743.3"/>
<line x1="1552.1" x2="1552.1" y1="93.3" y2="104.8"/><line x1="1552.1" x2="1552.1" y1="1754.8" y2="1743.3"/>
<line x1="1643.4" x2="1643.4" y1="93.3" y2="104.8"/><line x1="1643.4" x2="1643.4" y1="1754.8" y2="1743.3"/>
<line x1="1689.7" x2="1689.7" y1="93.3" y2="104.8"/><line x1="1689.7" x2="1689.7" y1="1754.8" y2="1743.3"/>
<line x1="1722.6" x2="1722.6" y1="93.3" y2="104.8"/><line x1="1722.6" x2="1722.6" y1="1754.8" y2="1743.3"/>
<line x1="1748.1" x2="1748.1" y1="93.3" y2="104.8"/><line x1="1748.1" x2="1748.1" y1="1754.8" y2="1743.3"/>
<line x1="1769.0" x2="1769.0" y1="93.3" y2="104.8"/><line x1="1769.0" x2="1769.0" y1="1754.8" y2="1743.3"/>
<line x1="1786.6" x2="1786.6" y1="93.3" y2="104.8"/><line x1="1786.6" x2="1786.6" y1="1754.8" y2="1743.3"/>
<line x1="1801.9" x2="1801.9" y1="93.3" y2="104.8"/><line x1="1801.9" x2="1801.9" y1="1754.8" y2="1743.3"/>
<line x1="1815.4" x2="1815.4" y1="93.3" y2="104.8"/><line x1="1815.4" x2="1815.4" y1="1754.8" y2="1743.3"/>
<line x1="1906.7" x2="1906.7" y1="93.3" y2="104.8"/><line x1="1906.7" x2="1906.7" y1="1754.8" y2="1743.3"/>
<line x1="1953.0" x2="1953.0" y1="93.3" y2="104.8"/><line x1="1953.0" x2="1953.0" y1="1754.8" y2="1743.3"/>
<line x1="1985.9" x2="1985.9" y1="93.3" y2="104.8"/><line x1="1985.9" x2="1985.9" y1="1754.8" y2="1743.3"/>
<line x1="2032.3" x2="2032.3" y1="93.3" y2="104.8"/><line x1="2032.3" x2="2032.3" y1="1754.8" y2="1743.3"/>
<line x1="2049.9" x2="2049.9" y1="93.3" y2="104.8"/><line x1="2049.9" x2="2049.9" y1="1754.8" y2="1743.3"/>
<line x1="2065.2" x2="2065.2" y1="93.3" y2="104.8"/><line x1="2065.2" x2="2065.2" y1="1754.8" y2="1743.3"/>
<line x1="2078.7" x2="2078.7" y1="93.3" y2="104.8"/><line x1="2078.7" x2="2078.7" y1="1754.8" y2="1743.3"/>
<line x1="2090.7" x2="2090.7" y1="93.3" y2="104.8"/><line x1="2090.7" x2="2090.7" y1="1754.8" y2="1743.3"/>
<line x1="2170.0" x2="2170.0" y1="93.3" y2="104.8"/><line x1="2170.0" x2="2170.0" y1="1754.8" y2="1743.3"/>
<line x1="2216.3" x2="2216.3" y1="93.3" y2="104.8"/><line x1="2216.3" x2="2216.3" y1="1754.8" y2="1743.3"/>
<line x1="2249.2" x2="2249.2" y1="93.3" y2="104.8"/><line x1="2249.2" x2="2249.2" y1="1754.8" y2="1743.3"/>
<line x1="2274.7" x2="2274.7" y1="93.3" y2="104.8"/><line x1="2274.7" x2="2274.7" y1="1754.8" y2="1743.3"/>
<line x1="2295.6" x2="2295.6" y1="93.3" y2="104.8"/><line x1="2295.6" x2="2295.6" y1="1754.8" y2="1743.3"/>
<line x1="2313.2" x2="2313.2" y1="93.3" y2="104.8"/><line x1="2313.2" x2="2313.2" y1="1754.8" y2="1743.3"/>
<line x1="2328.5" x2="2328.5" y1="93.3" y2="104.8"/><line x1="2328.5" x2="2328.5" y1="1754.8" y2="1743.3"/>
<line x1="2342.0" x2="2342.0" y1="93.3" y2="104.8"/><line x1="2342.0" x2="2342.0" y1="1754.8" y2="1743.3"/>
</g>
<g id="redlines">
<line x1="1308.0" x2="1308.0" y1="95.7" y2="1752.3999999999999" stroke="#ff6a6a" stroke-opacity="0.26" stroke-width="5.5"/>
<line x1="1303.4" x2="1303.4" y1="95.3" y2="1757.3" stroke="#b4424a" stroke-width="5.2"/>
<line x1="1571.1" x2="1571.1" y1="95.7" y2="1752.3999999999999" stroke="#ff6a6a" stroke-opacity="0.26" stroke-width="5.5"/>
<line x1="1566.5" x2="1566.5" y1="95.3" y2="1757.3" stroke="#b4424a" stroke-width="5.2"/>
<line x1="1833.1999999999998" x2="1833.1999999999998" y1="95.7" y2="1752.3999999999999" stroke="#ff6a6a" stroke-opacity="0.26" stroke-width="5.5"/>
<line x1="1828.6" x2="1828.6" y1="95.3" y2="1757.3" stroke="#b4424a" stroke-width="5.2"/>
<line x1="2017.6" x2="2017.6" y1="95.7" y2="1752.3999999999999" stroke="#ff6a6a" stroke-opacity="0.26" stroke-width="5.5"/>
<line x1="2013.0" x2="2013.0" y1="95.3" y2="1757.3" stroke="#b4424a" stroke-width="5.2"/>
</g>
<line x1="866" x2="912" y1="1754.3" y2="1752.3" stroke="#dca648" stroke-width="4.5" stroke-linecap="round" opacity="0.85"/>
<line x1="249.3" x2="830" y1="1756.6" y2="1756.6" stroke="#8a8450" stroke-width="2.6" opacity="0.8"/>
<line x1="249.3" x2="830" y1="1759.8" y2="1759.8" stroke="#fbf6d8" stroke-width="4"/>
<rect x="307.3" y="156.4" width="744.2" height="252.20000000000002" fill="#fff" stroke="#202020" stroke-width="4.5"/>
<g id="legendlines" fill="none">
<line x1="345" x2="515" y1="205" y2="205" stroke="#f0fbfe" stroke-width="15"/>
<line x1="325" x2="523.3" y1="205" y2="205" stroke="#1f5a72" stroke-width="4.8"/>
<line x1="325" x2="523.3" y1="284" y2="284" stroke="#fff6f3" stroke-width="12"/>
<line x1="325" x2="523.3" y1="282.3" y2="282.3" stroke="#8a5c54" stroke-width="4.4" stroke-dasharray="48 30"/>
<line x1="325" x2="523.3" y1="365.1" y2="365.1" stroke="#fdfce6" stroke-width="12"/>
<line x1="325" x2="523.3" y1="365.1" y2="365.1" stroke="#a8a468" stroke-width="4.4" stroke-dasharray="38 17 9 14"/>
</g>
<g id="labels" font-family="'Liberation Sans',Arial,sans-serif" font-weight="bold">
<text transform="translate(185.10,117.75) scale(0.9231,1)" font-size="65.0" fill="#2b2b2b"  stroke="#fff" stroke-width="0.7" stroke-linejoin="round">1</text>
<rect transform="translate(185.10,117.75) scale(0.9231,1)" x="2.86" y="-8.73" width="12.69" height="9.84" fill="#fff"/>
<rect transform="translate(185.10,117.75) scale(0.9231,1)" x="23.71" y="-8.73" width="12.15" height="9.84" fill="#fff"/>
<text transform="translate(133.05,283.75) scale(1.0006,1)" font-size="61.0" fill="#2b2b2b"  stroke="#fff" stroke-width="0.7" stroke-linejoin="round">0.9</text>
<text transform="translate(133.06,453.55) scale(0.9975,1)" font-size="61.0" fill="#2b2b2b"  stroke="#fff" stroke-width="0.7" stroke-linejoin="round">0.8</text>
<text transform="translate(133.03,618.75) scale(1.0069,1)" font-size="61.0" fill="#2b2b2b"  stroke="#fff" stroke-width="0.7" stroke-linejoin="round">0.7</text>
<text transform="translate(133.05,783.55) scale(1.0006,1)" font-size="61.0" fill="#2b2b2b"  stroke="#fff" stroke-width="0.7" stroke-linejoin="round">0.6</text>
<text transform="translate(133.06,953.75) scale(0.9944,1)" font-size="61.0" fill="#2b2b2b"  stroke="#fff" stroke-width="0.7" stroke-linejoin="round">0.5</text>
<text transform="translate(133.10,1118.75) scale(0.9793,1)" font-size="61.0" fill="#2b2b2b"  stroke="#fff" stroke-width="0.7" stroke-linejoin="round">0.4</text>
<text transform="translate(133.05,1284.35) scale(1.0006,1)" font-size="61.0" fill="#2b2b2b"  stroke="#fff" stroke-width="0.7" stroke-linejoin="round">0.3</text>
<text transform="translate(133.04,1449.75) scale(1.0037,1)" font-size="61.0" fill="#2b2b2b"  stroke="#fff" stroke-width="0.7" stroke-linejoin="round">0.2</text>
<text transform="translate(133.00,1618.75) scale(1.0204,1)" font-size="61.0" fill="#2b2b2b"  stroke="#fff" stroke-width="0.7" stroke-linejoin="round">0.1</text>
<rect transform="translate(133.00,1618.75) scale(1.0204,1)" x="53.56" y="-8.19" width="11.90" height="9.23" fill="#fff"/>
<rect transform="translate(133.00,1618.75) scale(1.0204,1)" x="73.14" y="-8.19" width="11.39" height="9.23" fill="#fff"/>
<text transform="translate(186.03,1784.85) scale(0.8862,1)" font-size="61.0" fill="#2b2b2b"  stroke="#fff" stroke-width="0.7" stroke-linejoin="round">0</text>
<text transform="translate(186.59,1862.55) scale(0.9306,1)" font-size="61.0" fill="#2b2b2b"  stroke="#fff" stroke-width="0.7" stroke-linejoin="round">10</text>
<rect transform="translate(186.59,1862.55) scale(0.9306,1)" x="2.68" y="-8.19" width="11.93" height="9.23" fill="#fff"/>
<rect transform="translate(186.59,1862.55) scale(0.9306,1)" x="22.23" y="-8.19" width="11.43" height="9.23" fill="#fff"/>
<text transform="translate(257.16,1833.20) scale(1.0209,1)" font-size="52.8" fill="#2b2b2b"  stroke="#fff" stroke-width="0.6" stroke-linejoin="round">-6</text>
<text transform="translate(710.36,1862.55) scale(0.9861,1)" font-size="61.0" fill="#2b2b2b"  stroke="#fff" stroke-width="0.7" stroke-linejoin="round">10</text>
<rect transform="translate(710.36,1862.55) scale(0.9861,1)" x="2.68" y="-8.19" width="11.91" height="9.23" fill="#fff"/>
<rect transform="translate(710.36,1862.55) scale(0.9861,1)" x="22.25" y="-8.19" width="11.41" height="9.23" fill="#fff"/>
<text transform="translate(783.16,1833.20) scale(0.9685,1)" font-size="52.8" fill="#2b2b2b"  stroke="#fff" stroke-width="0.6" stroke-linejoin="round">-4</text>
<text transform="translate(1239.97,1862.55) scale(0.9845,1)" font-size="61.0" fill="#2b2b2b"  stroke="#fff" stroke-width="0.7" stroke-linejoin="round">10</text>
<rect transform="translate(1239.97,1862.55) scale(0.9845,1)" x="2.68" y="-8.19" width="11.91" height="9.23" fill="#fff"/>
<rect transform="translate(1239.97,1862.55) scale(0.9845,1)" x="22.25" y="-8.19" width="11.41" height="9.23" fill="#fff"/>
<text transform="translate(1314.36,1833.20) scale(0.9684,1)" font-size="52.8" fill="#2b2b2b"  stroke="#fff" stroke-width="0.6" stroke-linejoin="round">-2</text>
<text transform="translate(1778.96,1862.55) scale(0.9861,1)" font-size="61.0" fill="#2b2b2b"  stroke="#fff" stroke-width="0.7" stroke-linejoin="round">10</text>
<rect transform="translate(1778.96,1862.55) scale(0.9861,1)" x="2.68" y="-8.19" width="11.91" height="9.23" fill="#fff"/>
<rect transform="translate(1778.96,1862.55) scale(0.9861,1)" x="22.25" y="-8.19" width="11.41" height="9.23" fill="#fff"/>
<text transform="translate(1853.85,1833.20) scale(0.8752,1)" font-size="52.8" fill="#2b2b2b"  stroke="#fff" stroke-width="0.6" stroke-linejoin="round">0</text>
<text transform="translate(2305.03,1862.55) scale(0.9698,1)" font-size="61.0" fill="#2b2b2b"  stroke="#fff" stroke-width="0.7" stroke-linejoin="round">10</text>
<rect transform="translate(2305.03,1862.55) scale(0.9698,1)" x="2.68" y="-8.19" width="11.92" height="9.23" fill="#fff"/>
<rect transform="translate(2305.03,1862.55) scale(0.9698,1)" x="22.25" y="-8.19" width="11.41" height="9.23" fill="#fff"/>
<text transform="translate(2375.84,1833.20) scale(1.0039,1)" font-size="52.8" fill="#2b2b2b"  stroke="#fff" stroke-width="0.6" stroke-linejoin="round">2</text>
<text transform="translate(1256.38,84.80) scale(0.9542,1)" font-size="67.7" fill="#111"  stroke="#fff" stroke-width="1.2" stroke-linejoin="round">0.01</text>
<rect transform="translate(1256.38,84.80) scale(0.9542,1)" x="97.16" y="-9.09" width="13.45" height="10.25" fill="#fff"/>
<rect transform="translate(1256.38,84.80) scale(0.9542,1)" x="118.64" y="-9.09" width="12.89" height="10.25" fill="#fff"/>
<text transform="translate(1519.39,84.80) scale(0.9494,1)" font-size="67.7" fill="#111"  stroke="#fff" stroke-width="1.2" stroke-linejoin="round">0.1</text>
<rect transform="translate(1519.39,84.80) scale(0.9494,1)" x="59.48" y="-9.09" width="13.46" height="10.25" fill="#fff"/>
<rect transform="translate(1519.39,84.80) scale(0.9494,1)" x="80.96" y="-9.09" width="12.90" height="10.25" fill="#fff"/>
<text transform="translate(1783.52,84.80) scale(0.9287,1)" font-size="67.7" fill="#111"  stroke="#fff" stroke-width="1.2" stroke-linejoin="round">1.0</text>
<rect transform="translate(1783.52,84.80) scale(0.9287,1)" x="2.98" y="-9.09" width="13.47" height="10.25" fill="#fff"/>
<rect transform="translate(1783.52,84.80) scale(0.9287,1)" x="24.44" y="-9.09" width="12.91" height="10.25" fill="#fff"/>
<text transform="translate(1970.59,80.40) scale(0.9039,1)" font-size="67.7" fill="#111"  stroke="#fff" stroke-width="1.2" stroke-linejoin="round">5.0</text>
<text transform="translate(534.62,225.20) scale(0.9946,1)" font-size="58" fill="#111" >iMAGINE-Eutectic</text>
<text transform="translate(534.62,308.00) scale(0.9947,1)" font-size="58" fill="#111" >iMAGINE-HMR</text>
<text transform="translate(535.96,385.30) scale(0.9711,1)" font-size="58" fill="#111" >EVOL</text>
<text transform="translate(1180.70,1959.20) scale(1.0436,1)" font-size="68" fill="#2b2b2b" >E(MeV)</text>
<text transform="translate(90.5,1368.99) rotate(-90) scale(0.9980,1)" font-size="71" fill="#2b2b2b">Cumulative fraction of flux</text>
</g>
</svg>
</body></html>
